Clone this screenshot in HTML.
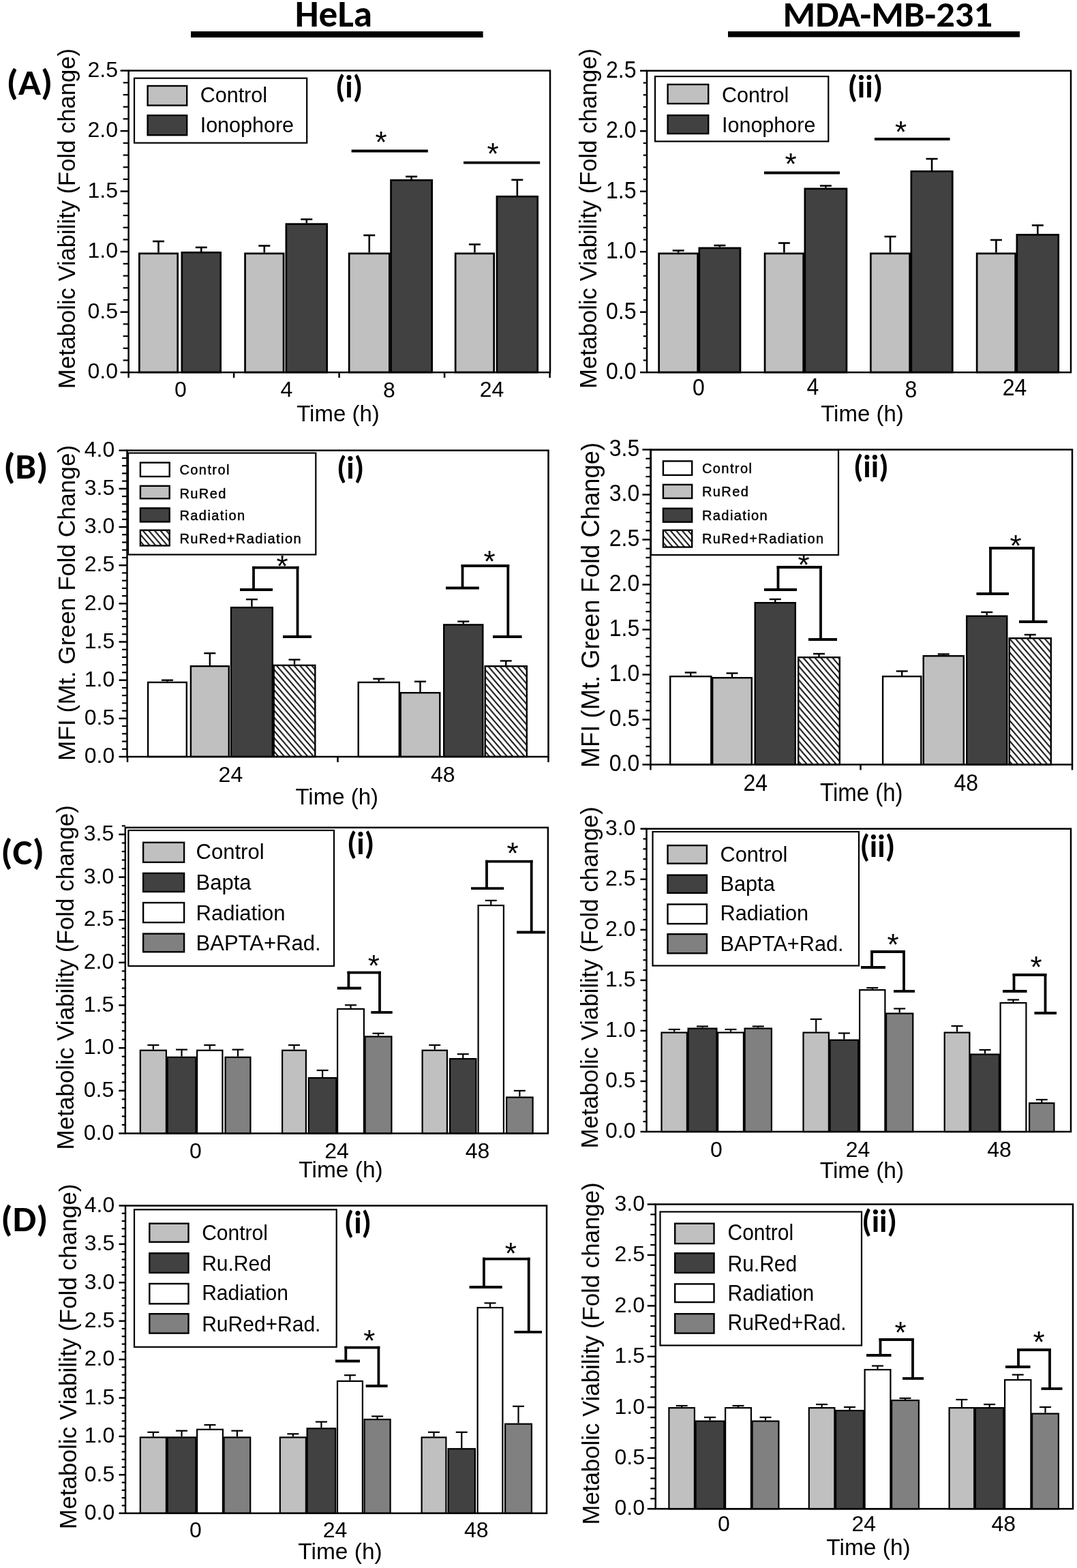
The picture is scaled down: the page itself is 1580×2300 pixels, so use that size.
<!DOCTYPE html>
<html><head><meta charset="utf-8"><title>Figure</title>
<style>html,body{margin:0;padding:0;background:#fff;}svg{display:block;}</style></head>
<body>
<svg xmlns="http://www.w3.org/2000/svg" width="1580" height="2300" viewBox="0 0 1580 2300">
<defs><pattern id="hatch" patternUnits="userSpaceOnUse" x="0" y="-5.4" width="8.6" height="10"><rect width="8.6" height="10" fill="#fff"/><path d="M-1.5,-1.744 L10.1,11.744 M7.1,-1.744 L10.1,1.744 M-1.5,8.256 L1.5,11.744" stroke="#000" stroke-width="1.9"/></pattern></defs>
<rect width="1580" height="2300" fill="#fff"/>
<line x1="232.5" y1="370.5" x2="232.5" y2="354" stroke="#000" stroke-width="2.6"/>
<line x1="224.0" y1="354" x2="241.0" y2="354" stroke="#000" stroke-width="2.6"/>
<rect x="204.35" y="371.85" width="56.30" height="174.20" fill="#c0c0c0" stroke="#000" stroke-width="2.7"/>
<line x1="295.25" y1="369" x2="295.25" y2="362.9" stroke="#000" stroke-width="2.6"/>
<line x1="286.75" y1="362.9" x2="303.75" y2="362.9" stroke="#000" stroke-width="2.6"/>
<rect x="266.85" y="370.35" width="56.80" height="175.70" fill="#414141" stroke="#000" stroke-width="2.7"/>
<line x1="387.79999999999995" y1="370.5" x2="387.79999999999995" y2="360.5" stroke="#000" stroke-width="2.6"/>
<line x1="379.29999999999995" y1="360.5" x2="396.29999999999995" y2="360.5" stroke="#000" stroke-width="2.6"/>
<rect x="359.55" y="371.85" width="56.50" height="174.20" fill="#c0c0c0" stroke="#000" stroke-width="2.7"/>
<line x1="449.75" y1="327.3" x2="449.75" y2="321.7" stroke="#000" stroke-width="2.6"/>
<line x1="441.25" y1="321.7" x2="458.25" y2="321.7" stroke="#000" stroke-width="2.6"/>
<rect x="419.85" y="328.65" width="59.80" height="217.40" fill="#414141" stroke="#000" stroke-width="2.7"/>
<line x1="541.75" y1="370.5" x2="541.75" y2="345.1" stroke="#000" stroke-width="2.6"/>
<line x1="533.25" y1="345.1" x2="550.25" y2="345.1" stroke="#000" stroke-width="2.6"/>
<rect x="512.15" y="371.85" width="59.20" height="174.20" fill="#c0c0c0" stroke="#000" stroke-width="2.7"/>
<line x1="603.6" y1="263" x2="603.6" y2="259" stroke="#000" stroke-width="2.6"/>
<line x1="595.1" y1="259" x2="612.1" y2="259" stroke="#000" stroke-width="2.6"/>
<rect x="573.55" y="264.35" width="60.10" height="281.70" fill="#414141" stroke="#000" stroke-width="2.7"/>
<line x1="696.4" y1="370.5" x2="696.4" y2="358.5" stroke="#000" stroke-width="2.6"/>
<line x1="687.9" y1="358.5" x2="704.9" y2="358.5" stroke="#000" stroke-width="2.6"/>
<rect x="668.15" y="371.85" width="56.50" height="174.20" fill="#c0c0c0" stroke="#000" stroke-width="2.7"/>
<line x1="758.8" y1="286.9" x2="758.8" y2="263.8" stroke="#000" stroke-width="2.6"/>
<line x1="750.3" y1="263.8" x2="767.3" y2="263.8" stroke="#000" stroke-width="2.6"/>
<rect x="728.95" y="288.25" width="59.70" height="257.80" fill="#414141" stroke="#000" stroke-width="2.7"/>
<rect x="188.6" y="103.6" width="618.4" height="442.6" fill="none" stroke="#000" stroke-width="2.5"/>
<line x1="176.6" y1="546.2" x2="188.6" y2="546.2" stroke="#000" stroke-width="2.5"/>
<text x="173" y="555.4000000000001" font-family="'Liberation Sans', Arial, sans-serif" font-size="32" text-anchor="end">0.0</text>
<line x1="180.6" y1="528.4960000000001" x2="188.6" y2="528.4960000000001" stroke="#000" stroke-width="2.2"/>
<line x1="180.6" y1="510.79200000000003" x2="188.6" y2="510.79200000000003" stroke="#000" stroke-width="2.2"/>
<line x1="180.6" y1="493.088" x2="188.6" y2="493.088" stroke="#000" stroke-width="2.2"/>
<line x1="180.6" y1="475.384" x2="188.6" y2="475.384" stroke="#000" stroke-width="2.2"/>
<line x1="176.6" y1="457.68000000000006" x2="188.6" y2="457.68000000000006" stroke="#000" stroke-width="2.5"/>
<text x="173" y="466.88000000000005" font-family="'Liberation Sans', Arial, sans-serif" font-size="32" text-anchor="end">0.5</text>
<line x1="180.6" y1="439.976" x2="188.6" y2="439.976" stroke="#000" stroke-width="2.2"/>
<line x1="180.6" y1="422.27200000000005" x2="188.6" y2="422.27200000000005" stroke="#000" stroke-width="2.2"/>
<line x1="180.6" y1="404.568" x2="188.6" y2="404.568" stroke="#000" stroke-width="2.2"/>
<line x1="180.6" y1="386.86400000000003" x2="188.6" y2="386.86400000000003" stroke="#000" stroke-width="2.2"/>
<line x1="176.6" y1="369.16" x2="188.6" y2="369.16" stroke="#000" stroke-width="2.5"/>
<text x="173" y="378.36" font-family="'Liberation Sans', Arial, sans-serif" font-size="32" text-anchor="end">1.0</text>
<line x1="180.6" y1="351.456" x2="188.6" y2="351.456" stroke="#000" stroke-width="2.2"/>
<line x1="180.6" y1="333.75199999999995" x2="188.6" y2="333.75199999999995" stroke="#000" stroke-width="2.2"/>
<line x1="180.6" y1="316.048" x2="188.6" y2="316.048" stroke="#000" stroke-width="2.2"/>
<line x1="180.6" y1="298.344" x2="188.6" y2="298.344" stroke="#000" stroke-width="2.2"/>
<line x1="176.6" y1="280.64" x2="188.6" y2="280.64" stroke="#000" stroke-width="2.5"/>
<text x="173" y="289.84" font-family="'Liberation Sans', Arial, sans-serif" font-size="32" text-anchor="end">1.5</text>
<line x1="180.6" y1="262.936" x2="188.6" y2="262.936" stroke="#000" stroke-width="2.2"/>
<line x1="180.6" y1="245.23199999999997" x2="188.6" y2="245.23199999999997" stroke="#000" stroke-width="2.2"/>
<line x1="180.6" y1="227.52800000000002" x2="188.6" y2="227.52800000000002" stroke="#000" stroke-width="2.2"/>
<line x1="180.6" y1="209.82399999999996" x2="188.6" y2="209.82399999999996" stroke="#000" stroke-width="2.2"/>
<line x1="176.6" y1="192.12" x2="188.6" y2="192.12" stroke="#000" stroke-width="2.5"/>
<text x="173" y="201.32" font-family="'Liberation Sans', Arial, sans-serif" font-size="32" text-anchor="end">2.0</text>
<line x1="180.6" y1="174.416" x2="188.6" y2="174.416" stroke="#000" stroke-width="2.2"/>
<line x1="180.6" y1="156.712" x2="188.6" y2="156.712" stroke="#000" stroke-width="2.2"/>
<line x1="180.6" y1="139.00799999999992" x2="188.6" y2="139.00799999999992" stroke="#000" stroke-width="2.2"/>
<line x1="180.6" y1="121.30399999999992" x2="188.6" y2="121.30399999999992" stroke="#000" stroke-width="2.2"/>
<line x1="176.6" y1="103.60000000000002" x2="188.6" y2="103.60000000000002" stroke="#000" stroke-width="2.5"/>
<text x="173" y="112.80000000000003" font-family="'Liberation Sans', Arial, sans-serif" font-size="32" text-anchor="end">2.5</text>
<line x1="188.6" y1="546.2" x2="188.6" y2="554.2" stroke="#000" stroke-width="2.5"/>
<line x1="343.1" y1="546.2" x2="343.1" y2="554.2" stroke="#000" stroke-width="2.5"/>
<line x1="497.6" y1="546.2" x2="497.6" y2="554.2" stroke="#000" stroke-width="2.5"/>
<line x1="652.1" y1="546.2" x2="652.1" y2="554.2" stroke="#000" stroke-width="2.5"/>
<line x1="806.6" y1="546.2" x2="806.6" y2="554.2" stroke="#000" stroke-width="2.5"/>
<text x="265" y="582" font-family="'Liberation Sans', Arial, sans-serif" font-size="32" text-anchor="middle">0</text>
<text x="420.3" y="582" font-family="'Liberation Sans', Arial, sans-serif" font-size="32" text-anchor="middle">4</text>
<text x="571" y="583" font-family="'Liberation Sans', Arial, sans-serif" font-size="32" text-anchor="middle">8</text>
<text x="721.5" y="582" font-family="'Liberation Sans', Arial, sans-serif" font-size="32" text-anchor="middle">24</text>
<text x="496" y="618" font-family="'Liberation Sans', Arial, sans-serif" font-size="33" text-anchor="middle">Time (h)</text>
<text x="0" y="0" font-family="'Liberation Sans', Arial, sans-serif" font-size="34.6" text-anchor="middle" transform="translate(110,320.6) rotate(-90)">Metabolic Viability (Fold change)</text>
<rect x="197" y="114.7" width="253.2" height="94.89999999999999" fill="#fff" stroke="#000" stroke-width="2.2"/>
<rect x="216.60" y="126.00" width="57.60" height="28.60" fill="#c0c0c0" stroke="#000" stroke-width="2.4"/>
<text x="293.7" y="149.5" font-family="'Liberation Sans', Arial, sans-serif" font-size="30.5" text-anchor="start">Control</text>
<rect x="216.60" y="169.20" width="57.60" height="29.00" fill="#414141" stroke="#000" stroke-width="2.4"/>
<text x="293.7" y="193.5" font-family="'Liberation Sans', Arial, sans-serif" font-size="30.5" text-anchor="start">Ionophore</text>
<line x1="515.6" y1="221.5" x2="627.8" y2="221.5" stroke="#000" stroke-width="3.8"/>
<line x1="680" y1="238.7" x2="792.1" y2="238.7" stroke="#000" stroke-width="3.8"/>
<text x="559" y="224.38" font-family="'Liberation Sans', Arial, sans-serif" font-size="44" text-anchor="middle">*</text>
<text x="723" y="240.88" font-family="'Liberation Sans', Arial, sans-serif" font-size="44" text-anchor="middle">*</text>
<text x="0" y="0" transform="translate(9.50,138.90) scale(1.07,1.0)" font-family="Carlito, 'Liberation Sans', Arial, sans-serif" font-size="51.5" font-weight="bold" text-anchor="start" textLength="63.30" lengthAdjust="spacingAndGlyphs">(A)</text>
<text x="491.9" y="142.9" font-family="Carlito, 'Liberation Sans', Arial, sans-serif" font-size="46.5" font-weight="bold" text-anchor="start" textLength="40.40" lengthAdjust="spacingAndGlyphs">(i)</text>
<line x1="995.15" y1="370.5" x2="995.15" y2="367.5" stroke="#000" stroke-width="2.6"/>
<line x1="986.65" y1="367.5" x2="1003.65" y2="367.5" stroke="#000" stroke-width="2.6"/>
<rect x="966.65" y="371.85" width="57.00" height="174.20" fill="#c0c0c0" stroke="#000" stroke-width="2.7"/>
<line x1="1055.9" y1="362.5" x2="1055.9" y2="360" stroke="#000" stroke-width="2.6"/>
<line x1="1047.4" y1="360" x2="1064.4" y2="360" stroke="#000" stroke-width="2.6"/>
<rect x="1025.85" y="363.85" width="60.10" height="182.20" fill="#414141" stroke="#000" stroke-width="2.7"/>
<line x1="1150.35" y1="370.5" x2="1150.35" y2="356.5" stroke="#000" stroke-width="2.6"/>
<line x1="1141.85" y1="356.5" x2="1158.85" y2="356.5" stroke="#000" stroke-width="2.6"/>
<rect x="1122.05" y="371.85" width="56.60" height="174.20" fill="#c0c0c0" stroke="#000" stroke-width="2.7"/>
<line x1="1211.4" y1="275.5" x2="1211.4" y2="272.5" stroke="#000" stroke-width="2.6"/>
<line x1="1202.9" y1="272.5" x2="1219.9" y2="272.5" stroke="#000" stroke-width="2.6"/>
<rect x="1180.85" y="276.85" width="61.10" height="269.20" fill="#414141" stroke="#000" stroke-width="2.7"/>
<line x1="1306.0" y1="370.5" x2="1306.0" y2="347" stroke="#000" stroke-width="2.6"/>
<line x1="1297.5" y1="347" x2="1314.5" y2="347" stroke="#000" stroke-width="2.6"/>
<rect x="1277.35" y="371.85" width="57.30" height="174.20" fill="#c0c0c0" stroke="#000" stroke-width="2.7"/>
<line x1="1367.05" y1="250" x2="1367.05" y2="233" stroke="#000" stroke-width="2.6"/>
<line x1="1358.55" y1="233" x2="1375.55" y2="233" stroke="#000" stroke-width="2.6"/>
<rect x="1336.85" y="251.35" width="60.40" height="294.70" fill="#414141" stroke="#000" stroke-width="2.7"/>
<line x1="1461.4" y1="370.5" x2="1461.4" y2="352" stroke="#000" stroke-width="2.6"/>
<line x1="1452.9" y1="352" x2="1469.9" y2="352" stroke="#000" stroke-width="2.6"/>
<rect x="1433.15" y="371.85" width="56.50" height="174.20" fill="#c0c0c0" stroke="#000" stroke-width="2.7"/>
<line x1="1522.3" y1="343" x2="1522.3" y2="330.5" stroke="#000" stroke-width="2.6"/>
<line x1="1513.8" y1="330.5" x2="1530.8" y2="330.5" stroke="#000" stroke-width="2.6"/>
<rect x="1491.85" y="344.35" width="60.90" height="201.70" fill="#414141" stroke="#000" stroke-width="2.7"/>
<rect x="949" y="103.8" width="622" height="442.40000000000003" fill="none" stroke="#000" stroke-width="2.5"/>
<line x1="939" y1="546.2" x2="949" y2="546.2" stroke="#000" stroke-width="2.5"/>
<text x="0" y="0" transform="translate(933.50,556.14) scale(1.0,1.08)" font-family="'Liberation Sans', Arial, sans-serif" font-size="32" text-anchor="end">0.0</text>
<line x1="943.7" y1="528.504" x2="949" y2="528.504" stroke="#000" stroke-width="2.2"/>
<line x1="943.7" y1="510.80800000000005" x2="949" y2="510.80800000000005" stroke="#000" stroke-width="2.2"/>
<line x1="943.7" y1="493.112" x2="949" y2="493.112" stroke="#000" stroke-width="2.2"/>
<line x1="943.7" y1="475.41600000000005" x2="949" y2="475.41600000000005" stroke="#000" stroke-width="2.2"/>
<line x1="939" y1="457.72" x2="949" y2="457.72" stroke="#000" stroke-width="2.5"/>
<text x="0" y="0" transform="translate(933.50,467.66) scale(1.0,1.08)" font-family="'Liberation Sans', Arial, sans-serif" font-size="32" text-anchor="end">0.5</text>
<line x1="943.7" y1="440.024" x2="949" y2="440.024" stroke="#000" stroke-width="2.2"/>
<line x1="943.7" y1="422.32800000000003" x2="949" y2="422.32800000000003" stroke="#000" stroke-width="2.2"/>
<line x1="943.7" y1="404.63200000000006" x2="949" y2="404.63200000000006" stroke="#000" stroke-width="2.2"/>
<line x1="943.7" y1="386.93600000000004" x2="949" y2="386.93600000000004" stroke="#000" stroke-width="2.2"/>
<line x1="939" y1="369.24" x2="949" y2="369.24" stroke="#000" stroke-width="2.5"/>
<text x="0" y="0" transform="translate(933.50,379.18) scale(1.0,1.08)" font-family="'Liberation Sans', Arial, sans-serif" font-size="32" text-anchor="end">1.0</text>
<line x1="943.7" y1="351.544" x2="949" y2="351.544" stroke="#000" stroke-width="2.2"/>
<line x1="943.7" y1="333.848" x2="949" y2="333.848" stroke="#000" stroke-width="2.2"/>
<line x1="943.7" y1="316.15200000000004" x2="949" y2="316.15200000000004" stroke="#000" stroke-width="2.2"/>
<line x1="943.7" y1="298.456" x2="949" y2="298.456" stroke="#000" stroke-width="2.2"/>
<line x1="939" y1="280.76000000000005" x2="949" y2="280.76000000000005" stroke="#000" stroke-width="2.5"/>
<text x="0" y="0" transform="translate(933.50,290.70) scale(1.0,1.08)" font-family="'Liberation Sans', Arial, sans-serif" font-size="32" text-anchor="end">1.5</text>
<line x1="943.7" y1="263.064" x2="949" y2="263.064" stroke="#000" stroke-width="2.2"/>
<line x1="943.7" y1="245.368" x2="949" y2="245.368" stroke="#000" stroke-width="2.2"/>
<line x1="943.7" y1="227.67200000000003" x2="949" y2="227.67200000000003" stroke="#000" stroke-width="2.2"/>
<line x1="943.7" y1="209.976" x2="949" y2="209.976" stroke="#000" stroke-width="2.2"/>
<line x1="939" y1="192.28000000000003" x2="949" y2="192.28000000000003" stroke="#000" stroke-width="2.5"/>
<text x="0" y="0" transform="translate(933.50,202.22) scale(1.0,1.08)" font-family="'Liberation Sans', Arial, sans-serif" font-size="32" text-anchor="end">2.0</text>
<line x1="943.7" y1="174.584" x2="949" y2="174.584" stroke="#000" stroke-width="2.2"/>
<line x1="943.7" y1="156.88799999999998" x2="949" y2="156.88799999999998" stroke="#000" stroke-width="2.2"/>
<line x1="943.7" y1="139.192" x2="949" y2="139.192" stroke="#000" stroke-width="2.2"/>
<line x1="943.7" y1="121.49599999999998" x2="949" y2="121.49599999999998" stroke="#000" stroke-width="2.2"/>
<line x1="939" y1="103.80000000000001" x2="949" y2="103.80000000000001" stroke="#000" stroke-width="2.5"/>
<text x="0" y="0" transform="translate(933.50,113.74) scale(1.0,1.08)" font-family="'Liberation Sans', Arial, sans-serif" font-size="32" text-anchor="end">2.5</text>
<text x="0" y="0" transform="translate(1025.00,579.50) scale(1.0,1.08)" font-family="'Liberation Sans', Arial, sans-serif" font-size="32" text-anchor="middle">0</text>
<text x="0" y="0" transform="translate(1192.50,578.50) scale(1.0,1.08)" font-family="'Liberation Sans', Arial, sans-serif" font-size="32" text-anchor="middle">4</text>
<text x="0" y="0" transform="translate(1336.50,582.50) scale(1.0,1.08)" font-family="'Liberation Sans', Arial, sans-serif" font-size="32" text-anchor="middle">8</text>
<text x="0" y="0" transform="translate(1488.50,579.50) scale(1.0,1.08)" font-family="'Liberation Sans', Arial, sans-serif" font-size="32" text-anchor="middle">24</text>
<text x="1265" y="618" font-family="'Liberation Sans', Arial, sans-serif" font-size="33" text-anchor="middle">Time (h)</text>
<text x="0" y="0" font-family="'Liberation Sans', Arial, sans-serif" font-size="34.6" text-anchor="middle" transform="translate(874.6,320.55) rotate(-90)">Metabolic Viability (Fold change)</text>
<rect x="961" y="112.1" width="254.29999999999995" height="95.30000000000001" fill="#fff" stroke="#000" stroke-width="2.2"/>
<rect x="979.60" y="123.90" width="59.60" height="28.10" fill="#c0c0c0" stroke="#000" stroke-width="2.4"/>
<text x="1059" y="150" font-family="'Liberation Sans', Arial, sans-serif" font-size="30.5" text-anchor="start">Control</text>
<rect x="979.60" y="169.10" width="59.60" height="26.90" fill="#414141" stroke="#000" stroke-width="2.4"/>
<text x="1059" y="193.5" font-family="'Liberation Sans', Arial, sans-serif" font-size="30.5" text-anchor="start">Ionophore</text>
<line x1="1121" y1="253.5" x2="1232" y2="253.5" stroke="#000" stroke-width="3.8"/>
<line x1="1283" y1="204" x2="1393.5" y2="204" stroke="#000" stroke-width="3.8"/>
<text x="1160" y="256.38" font-family="'Liberation Sans', Arial, sans-serif" font-size="44" text-anchor="middle">*</text>
<text x="1321.5" y="208.88" font-family="'Liberation Sans', Arial, sans-serif" font-size="44" text-anchor="middle">*</text>
<text x="1243.4" y="143.0" font-family="Carlito, 'Liberation Sans', Arial, sans-serif" font-size="46.5" font-weight="bold" text-anchor="start" textLength="51.82" lengthAdjust="spacingAndGlyphs">(ii)</text>
<line x1="245.45" y1="999.7" x2="245.45" y2="997.7" stroke="#000" stroke-width="2.4"/>
<line x1="236.95" y1="997.7" x2="253.95" y2="997.7" stroke="#000" stroke-width="2.4"/>
<rect x="217.10" y="1000.90" width="56.70" height="109.10" fill="#ffffff" stroke="#000" stroke-width="2.4"/>
<line x1="307.85" y1="976" x2="307.85" y2="958.2" stroke="#000" stroke-width="2.4"/>
<line x1="299.35" y1="958.2" x2="316.35" y2="958.2" stroke="#000" stroke-width="2.4"/>
<rect x="279.90" y="977.20" width="55.90" height="132.80" fill="#c0c0c0" stroke="#000" stroke-width="2.4"/>
<line x1="369.4" y1="889.9" x2="369.4" y2="879.2" stroke="#000" stroke-width="2.4"/>
<line x1="360.9" y1="879.2" x2="377.9" y2="879.2" stroke="#000" stroke-width="2.4"/>
<rect x="339.00" y="891.10" width="60.80" height="218.90" fill="#414141" stroke="#000" stroke-width="2.4"/>
<line x1="432.0" y1="974.7" x2="432.0" y2="967.6" stroke="#000" stroke-width="2.4"/>
<line x1="423.5" y1="967.6" x2="440.5" y2="967.6" stroke="#000" stroke-width="2.4"/>
<rect x="401.70" y="975.90" width="60.60" height="134.10" fill="url(#hatch)" stroke="#000" stroke-width="2.4"/>
<line x1="555.75" y1="999.7" x2="555.75" y2="995.7" stroke="#000" stroke-width="2.4"/>
<line x1="547.25" y1="995.7" x2="564.25" y2="995.7" stroke="#000" stroke-width="2.4"/>
<rect x="525.70" y="1000.90" width="60.10" height="109.10" fill="#ffffff" stroke="#000" stroke-width="2.4"/>
<line x1="616.5" y1="1015" x2="616.5" y2="999.7" stroke="#000" stroke-width="2.4"/>
<line x1="608.0" y1="999.7" x2="625.0" y2="999.7" stroke="#000" stroke-width="2.4"/>
<rect x="587.70" y="1016.20" width="57.60" height="93.80" fill="#c0c0c0" stroke="#000" stroke-width="2.4"/>
<line x1="679.75" y1="915.2" x2="679.75" y2="911.6" stroke="#000" stroke-width="2.4"/>
<line x1="671.25" y1="911.6" x2="688.25" y2="911.6" stroke="#000" stroke-width="2.4"/>
<rect x="651.20" y="916.40" width="57.10" height="193.60" fill="#414141" stroke="#000" stroke-width="2.4"/>
<line x1="742.25" y1="976" x2="742.25" y2="969.4" stroke="#000" stroke-width="2.4"/>
<line x1="733.75" y1="969.4" x2="750.75" y2="969.4" stroke="#000" stroke-width="2.4"/>
<rect x="711.70" y="977.20" width="61.10" height="132.80" fill="url(#hatch)" stroke="#000" stroke-width="2.4"/>
<rect x="186.5" y="660.7" width="618.0" height="449.29999999999995" fill="none" stroke="#000" stroke-width="2.5"/>
<line x1="174.5" y1="1110.0" x2="186.5" y2="1110.0" stroke="#000" stroke-width="2.5"/>
<text x="168.2" y="1119.2" font-family="'Liberation Sans', Arial, sans-serif" font-size="32" text-anchor="end">0.0</text>
<line x1="179.0" y1="1098.7675" x2="186.5" y2="1098.7675" stroke="#000" stroke-width="2.2"/>
<line x1="179.0" y1="1087.535" x2="186.5" y2="1087.535" stroke="#000" stroke-width="2.2"/>
<line x1="179.0" y1="1076.3025" x2="186.5" y2="1076.3025" stroke="#000" stroke-width="2.2"/>
<line x1="179.0" y1="1065.07" x2="186.5" y2="1065.07" stroke="#000" stroke-width="2.2"/>
<line x1="174.5" y1="1053.8375" x2="186.5" y2="1053.8375" stroke="#000" stroke-width="2.5"/>
<text x="168.2" y="1063.0375000000001" font-family="'Liberation Sans', Arial, sans-serif" font-size="32" text-anchor="end">0.5</text>
<line x1="179.0" y1="1042.605" x2="186.5" y2="1042.605" stroke="#000" stroke-width="2.2"/>
<line x1="179.0" y1="1031.3725" x2="186.5" y2="1031.3725" stroke="#000" stroke-width="2.2"/>
<line x1="179.0" y1="1020.14" x2="186.5" y2="1020.14" stroke="#000" stroke-width="2.2"/>
<line x1="179.0" y1="1008.9075" x2="186.5" y2="1008.9075" stroke="#000" stroke-width="2.2"/>
<line x1="174.5" y1="997.675" x2="186.5" y2="997.675" stroke="#000" stroke-width="2.5"/>
<text x="168.2" y="1006.875" font-family="'Liberation Sans', Arial, sans-serif" font-size="32" text-anchor="end">1.0</text>
<line x1="179.0" y1="986.4425" x2="186.5" y2="986.4425" stroke="#000" stroke-width="2.2"/>
<line x1="179.0" y1="975.21" x2="186.5" y2="975.21" stroke="#000" stroke-width="2.2"/>
<line x1="179.0" y1="963.9775" x2="186.5" y2="963.9775" stroke="#000" stroke-width="2.2"/>
<line x1="179.0" y1="952.745" x2="186.5" y2="952.745" stroke="#000" stroke-width="2.2"/>
<line x1="174.5" y1="941.5125" x2="186.5" y2="941.5125" stroke="#000" stroke-width="2.5"/>
<text x="168.2" y="950.7125000000001" font-family="'Liberation Sans', Arial, sans-serif" font-size="32" text-anchor="end">1.5</text>
<line x1="179.0" y1="930.28" x2="186.5" y2="930.28" stroke="#000" stroke-width="2.2"/>
<line x1="179.0" y1="919.0475" x2="186.5" y2="919.0475" stroke="#000" stroke-width="2.2"/>
<line x1="179.0" y1="907.815" x2="186.5" y2="907.815" stroke="#000" stroke-width="2.2"/>
<line x1="179.0" y1="896.5825" x2="186.5" y2="896.5825" stroke="#000" stroke-width="2.2"/>
<line x1="174.5" y1="885.35" x2="186.5" y2="885.35" stroke="#000" stroke-width="2.5"/>
<text x="168.2" y="894.5500000000001" font-family="'Liberation Sans', Arial, sans-serif" font-size="32" text-anchor="end">2.0</text>
<line x1="179.0" y1="874.1175000000001" x2="186.5" y2="874.1175000000001" stroke="#000" stroke-width="2.2"/>
<line x1="179.0" y1="862.885" x2="186.5" y2="862.885" stroke="#000" stroke-width="2.2"/>
<line x1="179.0" y1="851.6524999999999" x2="186.5" y2="851.6524999999999" stroke="#000" stroke-width="2.2"/>
<line x1="179.0" y1="840.42" x2="186.5" y2="840.42" stroke="#000" stroke-width="2.2"/>
<line x1="174.5" y1="829.1875" x2="186.5" y2="829.1875" stroke="#000" stroke-width="2.5"/>
<text x="168.2" y="838.3875" font-family="'Liberation Sans', Arial, sans-serif" font-size="32" text-anchor="end">2.5</text>
<line x1="179.0" y1="817.955" x2="186.5" y2="817.955" stroke="#000" stroke-width="2.2"/>
<line x1="179.0" y1="806.7225000000001" x2="186.5" y2="806.7225000000001" stroke="#000" stroke-width="2.2"/>
<line x1="179.0" y1="795.49" x2="186.5" y2="795.49" stroke="#000" stroke-width="2.2"/>
<line x1="179.0" y1="784.2574999999999" x2="186.5" y2="784.2574999999999" stroke="#000" stroke-width="2.2"/>
<line x1="174.5" y1="773.0250000000001" x2="186.5" y2="773.0250000000001" stroke="#000" stroke-width="2.5"/>
<text x="168.2" y="782.2250000000001" font-family="'Liberation Sans', Arial, sans-serif" font-size="32" text-anchor="end">3.0</text>
<line x1="179.0" y1="761.7925" x2="186.5" y2="761.7925" stroke="#000" stroke-width="2.2"/>
<line x1="179.0" y1="750.56" x2="186.5" y2="750.56" stroke="#000" stroke-width="2.2"/>
<line x1="179.0" y1="739.3275" x2="186.5" y2="739.3275" stroke="#000" stroke-width="2.2"/>
<line x1="179.0" y1="728.095" x2="186.5" y2="728.095" stroke="#000" stroke-width="2.2"/>
<line x1="174.5" y1="716.8625000000001" x2="186.5" y2="716.8625000000001" stroke="#000" stroke-width="2.5"/>
<text x="168.2" y="726.0625000000001" font-family="'Liberation Sans', Arial, sans-serif" font-size="32" text-anchor="end">3.5</text>
<line x1="179.0" y1="705.6300000000001" x2="186.5" y2="705.6300000000001" stroke="#000" stroke-width="2.2"/>
<line x1="179.0" y1="694.3975" x2="186.5" y2="694.3975" stroke="#000" stroke-width="2.2"/>
<line x1="179.0" y1="683.165" x2="186.5" y2="683.165" stroke="#000" stroke-width="2.2"/>
<line x1="179.0" y1="671.9325" x2="186.5" y2="671.9325" stroke="#000" stroke-width="2.2"/>
<line x1="174.5" y1="660.7" x2="186.5" y2="660.7" stroke="#000" stroke-width="2.5"/>
<text x="168.2" y="669.9000000000001" font-family="'Liberation Sans', Arial, sans-serif" font-size="32" text-anchor="end">4.0</text>
<line x1="187" y1="1110" x2="187" y2="1118" stroke="#000" stroke-width="2.5"/>
<line x1="495.5" y1="1110" x2="495.5" y2="1118" stroke="#000" stroke-width="2.5"/>
<line x1="804.5" y1="1110" x2="804.5" y2="1118" stroke="#000" stroke-width="2.5"/>
<text x="338.4" y="1147.3" font-family="'Liberation Sans', Arial, sans-serif" font-size="32" text-anchor="middle">24</text>
<text x="649.8" y="1147.3" font-family="'Liberation Sans', Arial, sans-serif" font-size="32" text-anchor="middle">48</text>
<text x="494.2" y="1180" font-family="'Liberation Sans', Arial, sans-serif" font-size="33" text-anchor="middle">Time (h)</text>
<text x="0" y="0" font-family="'Liberation Sans', Arial, sans-serif" font-size="35.33" text-anchor="middle" transform="translate(110,884.35) rotate(-90)">MFI (Mt. Green Fold Change)</text>
<rect x="188" y="664.5" width="275.3" height="149.0" fill="#fff" stroke="#000" stroke-width="2.2"/>
<rect x="205.90" y="678.60" width="42.80" height="20.40" fill="#ffffff" stroke="#000" stroke-width="2.4"/>
<text x="263.5" y="695.8" font-family="'Liberation Sans', Arial, sans-serif" font-size="20" text-anchor="start" letter-spacing="1.4" stroke="#000" stroke-width="0.45">Control</text>
<rect x="205.90" y="712.80" width="42.80" height="18.50" fill="#c0c0c0" stroke="#000" stroke-width="2.4"/>
<text x="263.5" y="730.6" font-family="'Liberation Sans', Arial, sans-serif" font-size="20" text-anchor="start" letter-spacing="1.4" stroke="#000" stroke-width="0.45">RuRed</text>
<rect x="205.90" y="745.40" width="42.80" height="20.00" fill="#414141" stroke="#000" stroke-width="2.4"/>
<text x="263.5" y="762.8" font-family="'Liberation Sans', Arial, sans-serif" font-size="20" text-anchor="start" letter-spacing="1.4" stroke="#000" stroke-width="0.45">Radiation</text>
<rect x="205.90" y="777.70" width="42.80" height="22.70" fill="url(#hatch)" stroke="#000" stroke-width="2.4"/>
<text x="263.5" y="797" font-family="'Liberation Sans', Arial, sans-serif" font-size="20" text-anchor="start" letter-spacing="1.4" stroke="#000" stroke-width="0.45">RuRed+Radiation</text>
<line x1="352" y1="865" x2="400" y2="865" stroke="#000" stroke-width="3.8"/>
<line x1="372" y1="865" x2="372" y2="830.8000000000001" stroke="#000" stroke-width="3.8"/>
<line x1="370.1" y1="832.7" x2="438.4" y2="832.7" stroke="#000" stroke-width="3.8"/>
<line x1="436.5" y1="830.8000000000001" x2="436.5" y2="934" stroke="#000" stroke-width="3.8"/>
<line x1="415" y1="934" x2="457" y2="934" stroke="#000" stroke-width="3.8"/>
<line x1="654" y1="862.5" x2="702.8" y2="862.5" stroke="#000" stroke-width="3.8"/>
<line x1="678.5" y1="862.5" x2="678.5" y2="828.1" stroke="#000" stroke-width="3.8"/>
<line x1="676.6" y1="830" x2="747.1999999999999" y2="830" stroke="#000" stroke-width="3.8"/>
<line x1="745.3" y1="828.1" x2="745.3" y2="934" stroke="#000" stroke-width="3.8"/>
<line x1="723" y1="934" x2="765.6" y2="934" stroke="#000" stroke-width="3.8"/>
<text x="414" y="846.38" font-family="'Liberation Sans', Arial, sans-serif" font-size="44" text-anchor="middle">*</text>
<text x="718" y="838.88" font-family="'Liberation Sans', Arial, sans-serif" font-size="44" text-anchor="middle">*</text>
<text x="0" y="0" transform="translate(5.20,702.30) scale(1.07,1.0)" font-family="Carlito, 'Liberation Sans', Arial, sans-serif" font-size="51.5" font-weight="bold" text-anchor="start" textLength="60.96" lengthAdjust="spacingAndGlyphs">(B)</text>
<text x="493.9" y="701.9" font-family="Carlito, 'Liberation Sans', Arial, sans-serif" font-size="46.5" font-weight="bold" text-anchor="start" textLength="40.40" lengthAdjust="spacingAndGlyphs">(i)</text>
<line x1="1013.25" y1="991" x2="1013.25" y2="986.5" stroke="#000" stroke-width="2.4"/>
<line x1="1004.75" y1="986.5" x2="1021.75" y2="986.5" stroke="#000" stroke-width="2.4"/>
<rect x="983.20" y="992.20" width="60.10" height="129.30" fill="#ffffff" stroke="#000" stroke-width="2.4"/>
<line x1="1074.0" y1="993" x2="1074.0" y2="987.5" stroke="#000" stroke-width="2.4"/>
<line x1="1065.5" y1="987.5" x2="1082.5" y2="987.5" stroke="#000" stroke-width="2.4"/>
<rect x="1045.20" y="994.20" width="57.60" height="127.30" fill="#c0c0c0" stroke="#000" stroke-width="2.4"/>
<line x1="1137.25" y1="883" x2="1137.25" y2="879" stroke="#000" stroke-width="2.4"/>
<line x1="1128.75" y1="879" x2="1145.75" y2="879" stroke="#000" stroke-width="2.4"/>
<rect x="1107.70" y="884.20" width="59.10" height="237.30" fill="#414141" stroke="#000" stroke-width="2.4"/>
<line x1="1201.5" y1="963" x2="1201.5" y2="959" stroke="#000" stroke-width="2.4"/>
<line x1="1193.0" y1="959" x2="1210.0" y2="959" stroke="#000" stroke-width="2.4"/>
<rect x="1171.20" y="964.20" width="60.60" height="157.30" fill="url(#hatch)" stroke="#000" stroke-width="2.4"/>
<line x1="1323.2" y1="991" x2="1323.2" y2="984.5" stroke="#000" stroke-width="2.4"/>
<line x1="1314.7" y1="984.5" x2="1331.7" y2="984.5" stroke="#000" stroke-width="2.4"/>
<rect x="1295.10" y="992.20" width="56.20" height="129.30" fill="#ffffff" stroke="#000" stroke-width="2.4"/>
<line x1="1384.25" y1="961" x2="1384.25" y2="959.5" stroke="#000" stroke-width="2.4"/>
<line x1="1375.75" y1="959.5" x2="1392.75" y2="959.5" stroke="#000" stroke-width="2.4"/>
<rect x="1354.70" y="962.20" width="59.10" height="159.30" fill="#c0c0c0" stroke="#000" stroke-width="2.4"/>
<line x1="1447.75" y1="902.5" x2="1447.75" y2="898" stroke="#000" stroke-width="2.4"/>
<line x1="1439.25" y1="898" x2="1456.25" y2="898" stroke="#000" stroke-width="2.4"/>
<rect x="1418.20" y="903.70" width="59.10" height="217.80" fill="#414141" stroke="#000" stroke-width="2.4"/>
<line x1="1511.25" y1="935" x2="1511.25" y2="931" stroke="#000" stroke-width="2.4"/>
<line x1="1502.75" y1="931" x2="1519.75" y2="931" stroke="#000" stroke-width="2.4"/>
<rect x="1480.70" y="936.20" width="61.10" height="185.30" fill="url(#hatch)" stroke="#000" stroke-width="2.4"/>
<rect x="954.4" y="659.5" width="618.6" height="462.0" fill="none" stroke="#000" stroke-width="2.5"/>
<line x1="942.4" y1="1121.5" x2="954.4" y2="1121.5" stroke="#000" stroke-width="2.5"/>
<text x="0" y="0" transform="translate(938.20,1131.36) scale(1.0,1.12)" font-family="'Liberation Sans', Arial, sans-serif" font-size="32" text-anchor="end">0.0</text>
<line x1="947.4" y1="1108.3" x2="954.4" y2="1108.3" stroke="#000" stroke-width="2.2"/>
<line x1="947.4" y1="1095.1" x2="954.4" y2="1095.1" stroke="#000" stroke-width="2.2"/>
<line x1="947.4" y1="1081.9" x2="954.4" y2="1081.9" stroke="#000" stroke-width="2.2"/>
<line x1="947.4" y1="1068.7" x2="954.4" y2="1068.7" stroke="#000" stroke-width="2.2"/>
<line x1="942.4" y1="1055.5" x2="954.4" y2="1055.5" stroke="#000" stroke-width="2.5"/>
<text x="0" y="0" transform="translate(938.20,1065.36) scale(1.0,1.12)" font-family="'Liberation Sans', Arial, sans-serif" font-size="32" text-anchor="end">0.5</text>
<line x1="947.4" y1="1042.3" x2="954.4" y2="1042.3" stroke="#000" stroke-width="2.2"/>
<line x1="947.4" y1="1029.1" x2="954.4" y2="1029.1" stroke="#000" stroke-width="2.2"/>
<line x1="947.4" y1="1015.9" x2="954.4" y2="1015.9" stroke="#000" stroke-width="2.2"/>
<line x1="947.4" y1="1002.7" x2="954.4" y2="1002.7" stroke="#000" stroke-width="2.2"/>
<line x1="942.4" y1="989.5" x2="954.4" y2="989.5" stroke="#000" stroke-width="2.5"/>
<text x="0" y="0" transform="translate(938.20,999.36) scale(1.0,1.12)" font-family="'Liberation Sans', Arial, sans-serif" font-size="32" text-anchor="end">1.0</text>
<line x1="947.4" y1="976.3" x2="954.4" y2="976.3" stroke="#000" stroke-width="2.2"/>
<line x1="947.4" y1="963.0999999999999" x2="954.4" y2="963.0999999999999" stroke="#000" stroke-width="2.2"/>
<line x1="947.4" y1="949.9" x2="954.4" y2="949.9" stroke="#000" stroke-width="2.2"/>
<line x1="947.4" y1="936.7" x2="954.4" y2="936.7" stroke="#000" stroke-width="2.2"/>
<line x1="942.4" y1="923.5" x2="954.4" y2="923.5" stroke="#000" stroke-width="2.5"/>
<text x="0" y="0" transform="translate(938.20,933.36) scale(1.0,1.12)" font-family="'Liberation Sans', Arial, sans-serif" font-size="32" text-anchor="end">1.5</text>
<line x1="947.4" y1="910.3" x2="954.4" y2="910.3" stroke="#000" stroke-width="2.2"/>
<line x1="947.4" y1="897.0999999999999" x2="954.4" y2="897.0999999999999" stroke="#000" stroke-width="2.2"/>
<line x1="947.4" y1="883.9" x2="954.4" y2="883.9" stroke="#000" stroke-width="2.2"/>
<line x1="947.4" y1="870.7" x2="954.4" y2="870.7" stroke="#000" stroke-width="2.2"/>
<line x1="942.4" y1="857.5" x2="954.4" y2="857.5" stroke="#000" stroke-width="2.5"/>
<text x="0" y="0" transform="translate(938.20,867.36) scale(1.0,1.12)" font-family="'Liberation Sans', Arial, sans-serif" font-size="32" text-anchor="end">2.0</text>
<line x1="947.4" y1="844.3" x2="954.4" y2="844.3" stroke="#000" stroke-width="2.2"/>
<line x1="947.4" y1="831.0999999999999" x2="954.4" y2="831.0999999999999" stroke="#000" stroke-width="2.2"/>
<line x1="947.4" y1="817.9" x2="954.4" y2="817.9" stroke="#000" stroke-width="2.2"/>
<line x1="947.4" y1="804.6999999999999" x2="954.4" y2="804.6999999999999" stroke="#000" stroke-width="2.2"/>
<line x1="942.4" y1="791.5" x2="954.4" y2="791.5" stroke="#000" stroke-width="2.5"/>
<text x="0" y="0" transform="translate(938.20,801.36) scale(1.0,1.12)" font-family="'Liberation Sans', Arial, sans-serif" font-size="32" text-anchor="end">2.5</text>
<line x1="947.4" y1="778.3" x2="954.4" y2="778.3" stroke="#000" stroke-width="2.2"/>
<line x1="947.4" y1="765.0999999999999" x2="954.4" y2="765.0999999999999" stroke="#000" stroke-width="2.2"/>
<line x1="947.4" y1="751.9" x2="954.4" y2="751.9" stroke="#000" stroke-width="2.2"/>
<line x1="947.4" y1="738.6999999999999" x2="954.4" y2="738.6999999999999" stroke="#000" stroke-width="2.2"/>
<line x1="942.4" y1="725.5" x2="954.4" y2="725.5" stroke="#000" stroke-width="2.5"/>
<text x="0" y="0" transform="translate(938.20,735.36) scale(1.0,1.12)" font-family="'Liberation Sans', Arial, sans-serif" font-size="32" text-anchor="end">3.0</text>
<line x1="947.4" y1="712.3" x2="954.4" y2="712.3" stroke="#000" stroke-width="2.2"/>
<line x1="947.4" y1="699.0999999999999" x2="954.4" y2="699.0999999999999" stroke="#000" stroke-width="2.2"/>
<line x1="947.4" y1="685.9" x2="954.4" y2="685.9" stroke="#000" stroke-width="2.2"/>
<line x1="947.4" y1="672.6999999999999" x2="954.4" y2="672.6999999999999" stroke="#000" stroke-width="2.2"/>
<line x1="942.4" y1="659.5" x2="954.4" y2="659.5" stroke="#000" stroke-width="2.5"/>
<text x="0" y="0" transform="translate(938.20,669.36) scale(1.0,1.12)" font-family="'Liberation Sans', Arial, sans-serif" font-size="32" text-anchor="end">3.5</text>
<line x1="954.4" y1="1121.5" x2="954.4" y2="1129.5" stroke="#000" stroke-width="2.5"/>
<line x1="1262.5" y1="1121.5" x2="1262.5" y2="1129.5" stroke="#000" stroke-width="2.5"/>
<line x1="1573" y1="1121.5" x2="1573" y2="1129.5" stroke="#000" stroke-width="2.5"/>
<text x="0" y="0" transform="translate(1108.30,1160.00) scale(1.0,1.12)" font-family="'Liberation Sans', Arial, sans-serif" font-size="32" text-anchor="middle">24</text>
<text x="0" y="0" transform="translate(1417.30,1160.00) scale(1.0,1.12)" font-family="'Liberation Sans', Arial, sans-serif" font-size="32" text-anchor="middle">48</text>
<text x="0" y="0" transform="translate(1263.80,1174.50) scale(1.0,1.1)" font-family="'Liberation Sans', Arial, sans-serif" font-size="33" text-anchor="middle">Time (h)</text>
<text x="0" y="0" font-family="'Liberation Sans', Arial, sans-serif" font-size="36.4" text-anchor="middle" transform="translate(879.1,887.6) rotate(-90)">MFI (Mt. Green Fold Change)</text>
<rect x="955" y="660" width="275" height="154" fill="#fff" stroke="#000" stroke-width="2.2"/>
<rect x="972.90" y="676.40" width="42.30" height="20.50" fill="#ffffff" stroke="#000" stroke-width="2.4"/>
<text x="1030" y="694" font-family="'Liberation Sans', Arial, sans-serif" font-size="20" text-anchor="start" letter-spacing="1.4" stroke="#000" stroke-width="0.45">Control</text>
<rect x="972.90" y="710.90" width="42.30" height="20.00" fill="#c0c0c0" stroke="#000" stroke-width="2.4"/>
<text x="1030" y="728.4" font-family="'Liberation Sans', Arial, sans-serif" font-size="20" text-anchor="start" letter-spacing="1.4" stroke="#000" stroke-width="0.45">RuRed</text>
<rect x="972.90" y="745.80" width="42.30" height="19.90" fill="#414141" stroke="#000" stroke-width="2.4"/>
<text x="1030" y="763.3" font-family="'Liberation Sans', Arial, sans-serif" font-size="20" text-anchor="start" letter-spacing="1.4" stroke="#000" stroke-width="0.45">Radiation</text>
<rect x="972.90" y="777.70" width="42.30" height="24.80" fill="url(#hatch)" stroke="#000" stroke-width="2.4"/>
<text x="1030" y="797.3" font-family="'Liberation Sans', Arial, sans-serif" font-size="20" text-anchor="start" letter-spacing="1.4" stroke="#000" stroke-width="0.45">RuRed+Radiation</text>
<line x1="1121" y1="865" x2="1169" y2="865" stroke="#000" stroke-width="3.8"/>
<line x1="1141.5" y1="865" x2="1141.5" y2="830.1" stroke="#000" stroke-width="3.8"/>
<line x1="1139.6" y1="832" x2="1205.9" y2="832" stroke="#000" stroke-width="3.8"/>
<line x1="1204" y1="830.1" x2="1204" y2="938" stroke="#000" stroke-width="3.8"/>
<line x1="1186" y1="938" x2="1228" y2="938" stroke="#000" stroke-width="3.8"/>
<line x1="1432.5" y1="871" x2="1480" y2="871" stroke="#000" stroke-width="3.8"/>
<line x1="1453" y1="871" x2="1453" y2="802.1" stroke="#000" stroke-width="3.8"/>
<line x1="1451.1" y1="804" x2="1517.9" y2="804" stroke="#000" stroke-width="3.8"/>
<line x1="1516" y1="802.1" x2="1516" y2="912" stroke="#000" stroke-width="3.8"/>
<line x1="1495" y1="912" x2="1536.5" y2="912" stroke="#000" stroke-width="3.8"/>
<text x="1179" y="843.88" font-family="'Liberation Sans', Arial, sans-serif" font-size="44" text-anchor="middle">*</text>
<text x="1490" y="816.38" font-family="'Liberation Sans', Arial, sans-serif" font-size="44" text-anchor="middle">*</text>
<text x="1251.9" y="699.6" font-family="Carlito, 'Liberation Sans', Arial, sans-serif" font-size="46.5" font-weight="bold" text-anchor="start" textLength="51.82" lengthAdjust="spacingAndGlyphs">(ii)</text>
<line x1="224.85" y1="1539.6" x2="224.85" y2="1533" stroke="#000" stroke-width="2.2"/>
<line x1="216.35" y1="1533" x2="233.35" y2="1533" stroke="#000" stroke-width="2.2"/>
<rect x="205.80" y="1540.70" width="38.10" height="121.90" fill="#c0c0c0" stroke="#000" stroke-width="2.2"/>
<line x1="266.5" y1="1549.7" x2="266.5" y2="1539.6" stroke="#000" stroke-width="2.2"/>
<line x1="258.0" y1="1539.6" x2="275.0" y2="1539.6" stroke="#000" stroke-width="2.2"/>
<rect x="245.60" y="1550.80" width="41.80" height="111.80" fill="#414141" stroke="#000" stroke-width="2.2"/>
<line x1="307.75" y1="1539.6" x2="307.75" y2="1533" stroke="#000" stroke-width="2.2"/>
<line x1="299.25" y1="1533" x2="316.25" y2="1533" stroke="#000" stroke-width="2.2"/>
<rect x="289.10" y="1540.70" width="37.30" height="121.90" fill="#ffffff" stroke="#000" stroke-width="2.2"/>
<line x1="349.0" y1="1549.7" x2="349.0" y2="1539.6" stroke="#000" stroke-width="2.2"/>
<line x1="340.5" y1="1539.6" x2="357.5" y2="1539.6" stroke="#000" stroke-width="2.2"/>
<rect x="330.60" y="1550.80" width="36.80" height="111.80" fill="#808080" stroke="#000" stroke-width="2.2"/>
<line x1="431.5" y1="1539.6" x2="431.5" y2="1533" stroke="#000" stroke-width="2.2"/>
<line x1="423.0" y1="1533" x2="440.0" y2="1533" stroke="#000" stroke-width="2.2"/>
<rect x="414.10" y="1540.70" width="34.80" height="121.90" fill="#c0c0c0" stroke="#000" stroke-width="2.2"/>
<line x1="473.1" y1="1580" x2="473.1" y2="1570" stroke="#000" stroke-width="2.2"/>
<line x1="464.6" y1="1570" x2="481.6" y2="1570" stroke="#000" stroke-width="2.2"/>
<rect x="452.80" y="1581.10" width="40.60" height="81.50" fill="#414141" stroke="#000" stroke-width="2.2"/>
<line x1="514.5" y1="1478.9" x2="514.5" y2="1474.3" stroke="#000" stroke-width="2.2"/>
<line x1="506.0" y1="1474.3" x2="523.0" y2="1474.3" stroke="#000" stroke-width="2.2"/>
<rect x="495.10" y="1480.00" width="38.80" height="182.60" fill="#ffffff" stroke="#000" stroke-width="2.2"/>
<line x1="555.0" y1="1519.4" x2="555.0" y2="1515.8" stroke="#000" stroke-width="2.2"/>
<line x1="546.5" y1="1515.8" x2="563.5" y2="1515.8" stroke="#000" stroke-width="2.2"/>
<rect x="535.60" y="1520.50" width="38.80" height="142.10" fill="#808080" stroke="#000" stroke-width="2.2"/>
<line x1="637.75" y1="1539.6" x2="637.75" y2="1533" stroke="#000" stroke-width="2.2"/>
<line x1="629.25" y1="1533" x2="646.25" y2="1533" stroke="#000" stroke-width="2.2"/>
<rect x="619.60" y="1540.70" width="36.30" height="121.90" fill="#c0c0c0" stroke="#000" stroke-width="2.2"/>
<line x1="679.25" y1="1552" x2="679.25" y2="1546.2" stroke="#000" stroke-width="2.2"/>
<line x1="670.75" y1="1546.2" x2="687.75" y2="1546.2" stroke="#000" stroke-width="2.2"/>
<rect x="660.10" y="1553.10" width="38.30" height="109.50" fill="#414141" stroke="#000" stroke-width="2.2"/>
<line x1="720.25" y1="1327" x2="720.25" y2="1320.9" stroke="#000" stroke-width="2.2"/>
<line x1="711.75" y1="1320.9" x2="728.75" y2="1320.9" stroke="#000" stroke-width="2.2"/>
<rect x="701.60" y="1328.10" width="37.30" height="334.50" fill="#ffffff" stroke="#000" stroke-width="2.2"/>
<line x1="762.35" y1="1608.5" x2="762.35" y2="1599.9" stroke="#000" stroke-width="2.2"/>
<line x1="753.85" y1="1599.9" x2="770.85" y2="1599.9" stroke="#000" stroke-width="2.2"/>
<rect x="743.10" y="1609.60" width="38.50" height="53.00" fill="#808080" stroke="#000" stroke-width="2.2"/>
<rect x="183.8" y="1213.9" width="620.0999999999999" height="448.5999999999999" fill="none" stroke="#000" stroke-width="2.5"/>
<line x1="174.3" y1="1662.5" x2="183.8" y2="1662.5" stroke="#000" stroke-width="2.5"/>
<text x="167.3" y="1671.7" font-family="'Liberation Sans', Arial, sans-serif" font-size="32" text-anchor="end">0.0</text>
<line x1="178.8" y1="1649.97" x2="183.8" y2="1649.97" stroke="#000" stroke-width="2.2"/>
<line x1="178.8" y1="1637.44" x2="183.8" y2="1637.44" stroke="#000" stroke-width="2.2"/>
<line x1="178.8" y1="1624.91" x2="183.8" y2="1624.91" stroke="#000" stroke-width="2.2"/>
<line x1="178.8" y1="1612.38" x2="183.8" y2="1612.38" stroke="#000" stroke-width="2.2"/>
<line x1="174.3" y1="1599.85" x2="183.8" y2="1599.85" stroke="#000" stroke-width="2.5"/>
<text x="167.3" y="1609.05" font-family="'Liberation Sans', Arial, sans-serif" font-size="32" text-anchor="end">0.5</text>
<line x1="178.8" y1="1587.32" x2="183.8" y2="1587.32" stroke="#000" stroke-width="2.2"/>
<line x1="178.8" y1="1574.79" x2="183.8" y2="1574.79" stroke="#000" stroke-width="2.2"/>
<line x1="178.8" y1="1562.26" x2="183.8" y2="1562.26" stroke="#000" stroke-width="2.2"/>
<line x1="178.8" y1="1549.73" x2="183.8" y2="1549.73" stroke="#000" stroke-width="2.2"/>
<line x1="174.3" y1="1537.2" x2="183.8" y2="1537.2" stroke="#000" stroke-width="2.5"/>
<text x="167.3" y="1546.4" font-family="'Liberation Sans', Arial, sans-serif" font-size="32" text-anchor="end">1.0</text>
<line x1="178.8" y1="1524.67" x2="183.8" y2="1524.67" stroke="#000" stroke-width="2.2"/>
<line x1="178.8" y1="1512.1399999999999" x2="183.8" y2="1512.1399999999999" stroke="#000" stroke-width="2.2"/>
<line x1="178.8" y1="1499.61" x2="183.8" y2="1499.61" stroke="#000" stroke-width="2.2"/>
<line x1="178.8" y1="1487.08" x2="183.8" y2="1487.08" stroke="#000" stroke-width="2.2"/>
<line x1="174.3" y1="1474.55" x2="183.8" y2="1474.55" stroke="#000" stroke-width="2.5"/>
<text x="167.3" y="1483.75" font-family="'Liberation Sans', Arial, sans-serif" font-size="32" text-anchor="end">1.5</text>
<line x1="178.8" y1="1462.02" x2="183.8" y2="1462.02" stroke="#000" stroke-width="2.2"/>
<line x1="178.8" y1="1449.49" x2="183.8" y2="1449.49" stroke="#000" stroke-width="2.2"/>
<line x1="178.8" y1="1436.96" x2="183.8" y2="1436.96" stroke="#000" stroke-width="2.2"/>
<line x1="178.8" y1="1424.43" x2="183.8" y2="1424.43" stroke="#000" stroke-width="2.2"/>
<line x1="174.3" y1="1411.9" x2="183.8" y2="1411.9" stroke="#000" stroke-width="2.5"/>
<text x="167.3" y="1421.1000000000001" font-family="'Liberation Sans', Arial, sans-serif" font-size="32" text-anchor="end">2.0</text>
<line x1="178.8" y1="1399.37" x2="183.8" y2="1399.37" stroke="#000" stroke-width="2.2"/>
<line x1="178.8" y1="1386.84" x2="183.8" y2="1386.84" stroke="#000" stroke-width="2.2"/>
<line x1="178.8" y1="1374.31" x2="183.8" y2="1374.31" stroke="#000" stroke-width="2.2"/>
<line x1="178.8" y1="1361.78" x2="183.8" y2="1361.78" stroke="#000" stroke-width="2.2"/>
<line x1="174.3" y1="1349.25" x2="183.8" y2="1349.25" stroke="#000" stroke-width="2.5"/>
<text x="167.3" y="1358.45" font-family="'Liberation Sans', Arial, sans-serif" font-size="32" text-anchor="end">2.5</text>
<line x1="178.8" y1="1336.72" x2="183.8" y2="1336.72" stroke="#000" stroke-width="2.2"/>
<line x1="178.8" y1="1324.19" x2="183.8" y2="1324.19" stroke="#000" stroke-width="2.2"/>
<line x1="178.8" y1="1311.6599999999999" x2="183.8" y2="1311.6599999999999" stroke="#000" stroke-width="2.2"/>
<line x1="178.8" y1="1299.1299999999999" x2="183.8" y2="1299.1299999999999" stroke="#000" stroke-width="2.2"/>
<line x1="174.3" y1="1286.6" x2="183.8" y2="1286.6" stroke="#000" stroke-width="2.5"/>
<text x="167.3" y="1295.8" font-family="'Liberation Sans', Arial, sans-serif" font-size="32" text-anchor="end">3.0</text>
<line x1="178.8" y1="1274.07" x2="183.8" y2="1274.07" stroke="#000" stroke-width="2.2"/>
<line x1="178.8" y1="1261.54" x2="183.8" y2="1261.54" stroke="#000" stroke-width="2.2"/>
<line x1="178.8" y1="1249.01" x2="183.8" y2="1249.01" stroke="#000" stroke-width="2.2"/>
<line x1="178.8" y1="1236.48" x2="183.8" y2="1236.48" stroke="#000" stroke-width="2.2"/>
<line x1="174.3" y1="1223.95" x2="183.8" y2="1223.95" stroke="#000" stroke-width="2.5"/>
<text x="167.3" y="1233.15" font-family="'Liberation Sans', Arial, sans-serif" font-size="32" text-anchor="end">3.5</text>
<line x1="178.8" y1="1211.42" x2="183.8" y2="1211.42" stroke="#000" stroke-width="2.2"/>
<text x="286.9" y="1699" font-family="'Liberation Sans', Arial, sans-serif" font-size="32" text-anchor="middle">0</text>
<text x="494" y="1699" font-family="'Liberation Sans', Arial, sans-serif" font-size="32" text-anchor="middle">24</text>
<text x="700.5" y="1699" font-family="'Liberation Sans', Arial, sans-serif" font-size="32" text-anchor="middle">48</text>
<text x="500" y="1726.5" font-family="'Liberation Sans', Arial, sans-serif" font-size="33.5" text-anchor="middle">Time (h)</text>
<text x="0" y="0" font-family="'Liberation Sans', Arial, sans-serif" font-size="35.0" text-anchor="middle" transform="translate(108.1,1433.8) rotate(-90)">Metabolic Viability (Fold change)</text>
<rect x="188.4" y="1218" width="301.6" height="199" fill="#fff" stroke="#000" stroke-width="2.2"/>
<rect x="210.10" y="1235.80" width="60.00" height="29.00" fill="#c0c0c0" stroke="#000" stroke-width="2.4"/>
<text x="287.6" y="1259.5" font-family="'Liberation Sans', Arial, sans-serif" font-size="31" text-anchor="start">Control</text>
<rect x="210.10" y="1280.90" width="60.00" height="27.10" fill="#414141" stroke="#000" stroke-width="2.4"/>
<text x="287.6" y="1305.4" font-family="'Liberation Sans', Arial, sans-serif" font-size="31" text-anchor="start">Bapta</text>
<rect x="210.10" y="1324.10" width="60.00" height="29.00" fill="#ffffff" stroke="#000" stroke-width="2.4"/>
<text x="287.6" y="1350.2" font-family="'Liberation Sans', Arial, sans-serif" font-size="31" text-anchor="start">Radiation</text>
<rect x="210.10" y="1369.60" width="60.00" height="26.70" fill="#808080" stroke="#000" stroke-width="2.4"/>
<text x="287.6" y="1394" font-family="'Liberation Sans', Arial, sans-serif" font-size="31" text-anchor="start">BAPTA+Rad.</text>
<line x1="494.7" y1="1449.5" x2="530" y2="1449.5" stroke="#000" stroke-width="3.8"/>
<line x1="511.4" y1="1449.5" x2="511.4" y2="1424.8" stroke="#000" stroke-width="3.8"/>
<line x1="509.5" y1="1426.7" x2="558.9" y2="1426.7" stroke="#000" stroke-width="3.8"/>
<line x1="557" y1="1424.8" x2="557" y2="1485" stroke="#000" stroke-width="3.8"/>
<line x1="544.3" y1="1485" x2="575.7" y2="1485" stroke="#000" stroke-width="3.8"/>
<line x1="691" y1="1303.2" x2="739.2" y2="1303.2" stroke="#000" stroke-width="3.8"/>
<line x1="714" y1="1303.2" x2="714" y2="1261.8" stroke="#000" stroke-width="3.8"/>
<line x1="712.1" y1="1263.7" x2="781.6" y2="1263.7" stroke="#000" stroke-width="3.8"/>
<line x1="779.7" y1="1261.8" x2="779.7" y2="1367.5" stroke="#000" stroke-width="3.8"/>
<line x1="758" y1="1367.5" x2="800" y2="1367.5" stroke="#000" stroke-width="3.8"/>
<text x="548.4" y="1431.88" font-family="'Liberation Sans', Arial, sans-serif" font-size="44" text-anchor="middle">*</text>
<text x="752" y="1267.38" font-family="'Liberation Sans', Arial, sans-serif" font-size="44" text-anchor="middle">*</text>
<text x="0" y="0" transform="translate(1.30,1268.20) scale(1.07,1.0)" font-family="Carlito, 'Liberation Sans', Arial, sans-serif" font-size="51.5" font-weight="bold" text-anchor="start" textLength="59.35" lengthAdjust="spacingAndGlyphs">(C)</text>
<text x="508.9" y="1252.9" font-family="Carlito, 'Liberation Sans', Arial, sans-serif" font-size="46.5" font-weight="bold" text-anchor="start" textLength="40.40" lengthAdjust="spacingAndGlyphs">(i)</text>
<line x1="989.2" y1="1513.5" x2="989.2" y2="1510" stroke="#000" stroke-width="2.2"/>
<line x1="980.7" y1="1510" x2="997.7" y2="1510" stroke="#000" stroke-width="2.2"/>
<rect x="970.50" y="1514.60" width="37.40" height="145.50" fill="#c0c0c0" stroke="#000" stroke-width="2.2"/>
<line x1="1030.5" y1="1507.5" x2="1030.5" y2="1505.5" stroke="#000" stroke-width="2.2"/>
<line x1="1022.0" y1="1505.5" x2="1039.0" y2="1505.5" stroke="#000" stroke-width="2.2"/>
<rect x="1009.60" y="1508.60" width="41.80" height="151.50" fill="#414141" stroke="#000" stroke-width="2.2"/>
<line x1="1072.0" y1="1513.5" x2="1072.0" y2="1510" stroke="#000" stroke-width="2.2"/>
<line x1="1063.5" y1="1510" x2="1080.5" y2="1510" stroke="#000" stroke-width="2.2"/>
<rect x="1053.10" y="1514.60" width="37.80" height="145.50" fill="#ffffff" stroke="#000" stroke-width="2.2"/>
<line x1="1112.25" y1="1507.5" x2="1112.25" y2="1505.5" stroke="#000" stroke-width="2.2"/>
<line x1="1103.75" y1="1505.5" x2="1120.75" y2="1505.5" stroke="#000" stroke-width="2.2"/>
<rect x="1092.60" y="1508.60" width="39.30" height="151.50" fill="#808080" stroke="#000" stroke-width="2.2"/>
<line x1="1197.2" y1="1513.5" x2="1197.2" y2="1495" stroke="#000" stroke-width="2.2"/>
<line x1="1188.7" y1="1495" x2="1205.7" y2="1495" stroke="#000" stroke-width="2.2"/>
<rect x="1178.50" y="1514.60" width="37.40" height="145.50" fill="#c0c0c0" stroke="#000" stroke-width="2.2"/>
<line x1="1238.35" y1="1524.5" x2="1238.35" y2="1515.5" stroke="#000" stroke-width="2.2"/>
<line x1="1229.85" y1="1515.5" x2="1246.85" y2="1515.5" stroke="#000" stroke-width="2.2"/>
<rect x="1217.60" y="1525.60" width="41.50" height="134.50" fill="#414141" stroke="#000" stroke-width="2.2"/>
<line x1="1279.75" y1="1451" x2="1279.75" y2="1449" stroke="#000" stroke-width="2.2"/>
<line x1="1271.25" y1="1449" x2="1288.25" y2="1449" stroke="#000" stroke-width="2.2"/>
<rect x="1261.10" y="1452.10" width="37.30" height="208.00" fill="#ffffff" stroke="#000" stroke-width="2.2"/>
<line x1="1319.7" y1="1485.5" x2="1319.7" y2="1479.5" stroke="#000" stroke-width="2.2"/>
<line x1="1311.2" y1="1479.5" x2="1328.2" y2="1479.5" stroke="#000" stroke-width="2.2"/>
<rect x="1300.10" y="1486.60" width="39.20" height="173.50" fill="#808080" stroke="#000" stroke-width="2.2"/>
<line x1="1404.05" y1="1513.5" x2="1404.05" y2="1505" stroke="#000" stroke-width="2.2"/>
<line x1="1395.55" y1="1505" x2="1412.55" y2="1505" stroke="#000" stroke-width="2.2"/>
<rect x="1385.70" y="1514.60" width="36.70" height="145.50" fill="#c0c0c0" stroke="#000" stroke-width="2.2"/>
<line x1="1445.0" y1="1545.5" x2="1445.0" y2="1540" stroke="#000" stroke-width="2.2"/>
<line x1="1436.5" y1="1540" x2="1453.5" y2="1540" stroke="#000" stroke-width="2.2"/>
<rect x="1424.10" y="1546.60" width="41.80" height="113.50" fill="#414141" stroke="#000" stroke-width="2.2"/>
<line x1="1486.5" y1="1470" x2="1486.5" y2="1466.5" stroke="#000" stroke-width="2.2"/>
<line x1="1478.0" y1="1466.5" x2="1495.0" y2="1466.5" stroke="#000" stroke-width="2.2"/>
<rect x="1467.60" y="1471.10" width="37.80" height="189.00" fill="#ffffff" stroke="#000" stroke-width="2.2"/>
<line x1="1528.25" y1="1617" x2="1528.25" y2="1613" stroke="#000" stroke-width="2.2"/>
<line x1="1519.75" y1="1613" x2="1536.75" y2="1613" stroke="#000" stroke-width="2.2"/>
<rect x="1510.10" y="1618.10" width="36.30" height="42.00" fill="#808080" stroke="#000" stroke-width="2.2"/>
<rect x="948.5" y="1215.7" width="622.5" height="444.29999999999995" fill="none" stroke="#000" stroke-width="2.5"/>
<line x1="939.5" y1="1660.0" x2="948.5" y2="1660.0" stroke="#000" stroke-width="2.5"/>
<text x="932.5" y="1669.2" font-family="'Liberation Sans', Arial, sans-serif" font-size="32" text-anchor="end">0.0</text>
<line x1="943.5" y1="1645.19" x2="948.5" y2="1645.19" stroke="#000" stroke-width="2.2"/>
<line x1="943.5" y1="1630.38" x2="948.5" y2="1630.38" stroke="#000" stroke-width="2.2"/>
<line x1="943.5" y1="1615.57" x2="948.5" y2="1615.57" stroke="#000" stroke-width="2.2"/>
<line x1="943.5" y1="1600.76" x2="948.5" y2="1600.76" stroke="#000" stroke-width="2.2"/>
<line x1="939.5" y1="1585.95" x2="948.5" y2="1585.95" stroke="#000" stroke-width="2.5"/>
<text x="932.5" y="1595.15" font-family="'Liberation Sans', Arial, sans-serif" font-size="32" text-anchor="end">0.5</text>
<line x1="943.5" y1="1571.1399999999999" x2="948.5" y2="1571.1399999999999" stroke="#000" stroke-width="2.2"/>
<line x1="943.5" y1="1556.33" x2="948.5" y2="1556.33" stroke="#000" stroke-width="2.2"/>
<line x1="943.5" y1="1541.52" x2="948.5" y2="1541.52" stroke="#000" stroke-width="2.2"/>
<line x1="943.5" y1="1526.71" x2="948.5" y2="1526.71" stroke="#000" stroke-width="2.2"/>
<line x1="939.5" y1="1511.9" x2="948.5" y2="1511.9" stroke="#000" stroke-width="2.5"/>
<text x="932.5" y="1521.1000000000001" font-family="'Liberation Sans', Arial, sans-serif" font-size="32" text-anchor="end">1.0</text>
<line x1="943.5" y1="1497.09" x2="948.5" y2="1497.09" stroke="#000" stroke-width="2.2"/>
<line x1="943.5" y1="1482.28" x2="948.5" y2="1482.28" stroke="#000" stroke-width="2.2"/>
<line x1="943.5" y1="1467.47" x2="948.5" y2="1467.47" stroke="#000" stroke-width="2.2"/>
<line x1="943.5" y1="1452.66" x2="948.5" y2="1452.66" stroke="#000" stroke-width="2.2"/>
<line x1="939.5" y1="1437.85" x2="948.5" y2="1437.85" stroke="#000" stroke-width="2.5"/>
<text x="932.5" y="1447.05" font-family="'Liberation Sans', Arial, sans-serif" font-size="32" text-anchor="end">1.5</text>
<line x1="943.5" y1="1423.04" x2="948.5" y2="1423.04" stroke="#000" stroke-width="2.2"/>
<line x1="943.5" y1="1408.23" x2="948.5" y2="1408.23" stroke="#000" stroke-width="2.2"/>
<line x1="943.5" y1="1393.42" x2="948.5" y2="1393.42" stroke="#000" stroke-width="2.2"/>
<line x1="943.5" y1="1378.6100000000001" x2="948.5" y2="1378.6100000000001" stroke="#000" stroke-width="2.2"/>
<line x1="939.5" y1="1363.8" x2="948.5" y2="1363.8" stroke="#000" stroke-width="2.5"/>
<text x="932.5" y="1373.0" font-family="'Liberation Sans', Arial, sans-serif" font-size="32" text-anchor="end">2.0</text>
<line x1="943.5" y1="1348.99" x2="948.5" y2="1348.99" stroke="#000" stroke-width="2.2"/>
<line x1="943.5" y1="1334.18" x2="948.5" y2="1334.18" stroke="#000" stroke-width="2.2"/>
<line x1="943.5" y1="1319.37" x2="948.5" y2="1319.37" stroke="#000" stroke-width="2.2"/>
<line x1="943.5" y1="1304.56" x2="948.5" y2="1304.56" stroke="#000" stroke-width="2.2"/>
<line x1="939.5" y1="1289.75" x2="948.5" y2="1289.75" stroke="#000" stroke-width="2.5"/>
<text x="932.5" y="1298.95" font-family="'Liberation Sans', Arial, sans-serif" font-size="32" text-anchor="end">2.5</text>
<line x1="943.5" y1="1274.94" x2="948.5" y2="1274.94" stroke="#000" stroke-width="2.2"/>
<line x1="943.5" y1="1260.13" x2="948.5" y2="1260.13" stroke="#000" stroke-width="2.2"/>
<line x1="943.5" y1="1245.32" x2="948.5" y2="1245.32" stroke="#000" stroke-width="2.2"/>
<line x1="943.5" y1="1230.51" x2="948.5" y2="1230.51" stroke="#000" stroke-width="2.2"/>
<line x1="939.5" y1="1215.7" x2="948.5" y2="1215.7" stroke="#000" stroke-width="2.5"/>
<text x="932.5" y="1224.9" font-family="'Liberation Sans', Arial, sans-serif" font-size="32" text-anchor="end">3.0</text>
<text x="1051" y="1696.5" font-family="'Liberation Sans', Arial, sans-serif" font-size="32" text-anchor="middle">0</text>
<text x="1258.5" y="1696.5" font-family="'Liberation Sans', Arial, sans-serif" font-size="32" text-anchor="middle">24</text>
<text x="1466" y="1696.5" font-family="'Liberation Sans', Arial, sans-serif" font-size="32" text-anchor="middle">48</text>
<text x="1264.4" y="1727.5" font-family="'Liberation Sans', Arial, sans-serif" font-size="33.5" text-anchor="middle">Time (h)</text>
<text x="0" y="0" font-family="'Liberation Sans', Arial, sans-serif" font-size="34.73" text-anchor="middle" transform="translate(876.9,1433.85) rotate(-90)">Metabolic Viability (Fold change)</text>
<rect x="957.5" y="1220" width="302.5" height="196.5" fill="#fff" stroke="#000" stroke-width="2.2"/>
<rect x="979.50" y="1240.10" width="57.40" height="26.50" fill="#c0c0c0" stroke="#000" stroke-width="2.4"/>
<text x="0" y="0" transform="translate(1056.50,1263.50) scale(1.0,1.05)" font-family="'Liberation Sans', Arial, sans-serif" font-size="30.7" text-anchor="start">Control</text>
<rect x="979.50" y="1283.60" width="57.40" height="26.30" fill="#414141" stroke="#000" stroke-width="2.4"/>
<text x="0" y="0" transform="translate(1056.50,1306.70) scale(1.0,1.05)" font-family="'Liberation Sans', Arial, sans-serif" font-size="30.7" text-anchor="start">Bapta</text>
<rect x="979.50" y="1326.50" width="57.40" height="28.50" fill="#ffffff" stroke="#000" stroke-width="2.4"/>
<text x="0" y="0" transform="translate(1056.50,1350.40) scale(1.0,1.05)" font-family="'Liberation Sans', Arial, sans-serif" font-size="30.7" text-anchor="start">Radiation</text>
<rect x="979.50" y="1370.20" width="57.40" height="28.10" fill="#808080" stroke="#000" stroke-width="2.4"/>
<text x="0" y="0" transform="translate(1056.50,1395.40) scale(1.0,1.05)" font-family="'Liberation Sans', Arial, sans-serif" font-size="30.7" text-anchor="start">BAPTA+Rad.</text>
<line x1="1263" y1="1419" x2="1299" y2="1419" stroke="#000" stroke-width="3.8"/>
<line x1="1279" y1="1419" x2="1279" y2="1394.1" stroke="#000" stroke-width="3.8"/>
<line x1="1277.1" y1="1396" x2="1327.9" y2="1396" stroke="#000" stroke-width="3.8"/>
<line x1="1326" y1="1394.1" x2="1326" y2="1454" stroke="#000" stroke-width="3.8"/>
<line x1="1311" y1="1454" x2="1342" y2="1454" stroke="#000" stroke-width="3.8"/>
<line x1="1471" y1="1454" x2="1506.5" y2="1454" stroke="#000" stroke-width="3.8"/>
<line x1="1487.5" y1="1454" x2="1487.5" y2="1428.1" stroke="#000" stroke-width="3.8"/>
<line x1="1485.6" y1="1430" x2="1535.4" y2="1430" stroke="#000" stroke-width="3.8"/>
<line x1="1533.5" y1="1428.1" x2="1533.5" y2="1486" stroke="#000" stroke-width="3.8"/>
<line x1="1517.5" y1="1486" x2="1550" y2="1486" stroke="#000" stroke-width="3.8"/>
<text x="1310" y="1401.38" font-family="'Liberation Sans', Arial, sans-serif" font-size="44" text-anchor="middle">*</text>
<text x="1520" y="1433.88" font-family="'Liberation Sans', Arial, sans-serif" font-size="44" text-anchor="middle">*</text>
<text x="1261.4" y="1256.9" font-family="Carlito, 'Liberation Sans', Arial, sans-serif" font-size="46.5" font-weight="bold" text-anchor="start" textLength="51.82" lengthAdjust="spacingAndGlyphs">(ii)</text>
<line x1="224.85" y1="2107.3" x2="224.85" y2="2100.8" stroke="#000" stroke-width="2.2"/>
<line x1="216.35" y1="2100.8" x2="233.35" y2="2100.8" stroke="#000" stroke-width="2.2"/>
<rect x="205.80" y="2108.40" width="38.10" height="111.40" fill="#c0c0c0" stroke="#000" stroke-width="2.2"/>
<line x1="266.5" y1="2107.3" x2="266.5" y2="2098.7" stroke="#000" stroke-width="2.2"/>
<line x1="258.0" y1="2098.7" x2="275.0" y2="2098.7" stroke="#000" stroke-width="2.2"/>
<rect x="245.60" y="2108.40" width="41.80" height="111.40" fill="#414141" stroke="#000" stroke-width="2.2"/>
<line x1="308.0" y1="2095.7" x2="308.0" y2="2090.1" stroke="#000" stroke-width="2.2"/>
<line x1="299.5" y1="2090.1" x2="316.5" y2="2090.1" stroke="#000" stroke-width="2.2"/>
<rect x="289.10" y="2096.80" width="37.80" height="123.00" fill="#ffffff" stroke="#000" stroke-width="2.2"/>
<line x1="347.9" y1="2107.3" x2="347.9" y2="2098.7" stroke="#000" stroke-width="2.2"/>
<line x1="339.4" y1="2098.7" x2="356.4" y2="2098.7" stroke="#000" stroke-width="2.2"/>
<rect x="328.60" y="2108.40" width="38.60" height="111.40" fill="#808080" stroke="#000" stroke-width="2.2"/>
<line x1="429.85" y1="2107.3" x2="429.85" y2="2103.3" stroke="#000" stroke-width="2.2"/>
<line x1="421.35" y1="2103.3" x2="438.35" y2="2103.3" stroke="#000" stroke-width="2.2"/>
<rect x="410.80" y="2108.40" width="38.10" height="111.40" fill="#c0c0c0" stroke="#000" stroke-width="2.2"/>
<line x1="471.4" y1="2094.2" x2="471.4" y2="2085.6" stroke="#000" stroke-width="2.2"/>
<line x1="462.9" y1="2085.6" x2="479.9" y2="2085.6" stroke="#000" stroke-width="2.2"/>
<rect x="450.60" y="2095.30" width="41.60" height="124.50" fill="#414141" stroke="#000" stroke-width="2.2"/>
<line x1="513.45" y1="2024.8" x2="513.45" y2="2017.2" stroke="#000" stroke-width="2.2"/>
<line x1="504.95000000000005" y1="2017.2" x2="521.95" y2="2017.2" stroke="#000" stroke-width="2.2"/>
<rect x="495.00" y="2025.90" width="36.90" height="193.90" fill="#ffffff" stroke="#000" stroke-width="2.2"/>
<line x1="553.6" y1="2081" x2="553.6" y2="2077.5" stroke="#000" stroke-width="2.2"/>
<line x1="545.1" y1="2077.5" x2="562.1" y2="2077.5" stroke="#000" stroke-width="2.2"/>
<rect x="534.60" y="2082.10" width="38.00" height="137.70" fill="#808080" stroke="#000" stroke-width="2.2"/>
<line x1="636.5" y1="2107.3" x2="636.5" y2="2100.8" stroke="#000" stroke-width="2.2"/>
<line x1="628.0" y1="2100.8" x2="645.0" y2="2100.8" stroke="#000" stroke-width="2.2"/>
<rect x="618.60" y="2108.40" width="35.80" height="111.40" fill="#c0c0c0" stroke="#000" stroke-width="2.2"/>
<line x1="677.25" y1="2124.1" x2="677.25" y2="2100.8" stroke="#000" stroke-width="2.2"/>
<line x1="668.75" y1="2100.8" x2="685.75" y2="2100.8" stroke="#000" stroke-width="2.2"/>
<rect x="657.60" y="2125.20" width="39.30" height="94.60" fill="#414141" stroke="#000" stroke-width="2.2"/>
<line x1="719.0" y1="1917" x2="719.0" y2="1911.4" stroke="#000" stroke-width="2.2"/>
<line x1="710.5" y1="1911.4" x2="727.5" y2="1911.4" stroke="#000" stroke-width="2.2"/>
<rect x="700.60" y="1918.10" width="36.80" height="301.70" fill="#ffffff" stroke="#000" stroke-width="2.2"/>
<line x1="760.5" y1="2087.6" x2="760.5" y2="2062.8" stroke="#000" stroke-width="2.2"/>
<line x1="752.0" y1="2062.8" x2="769.0" y2="2062.8" stroke="#000" stroke-width="2.2"/>
<rect x="741.10" y="2088.70" width="38.80" height="131.10" fill="#808080" stroke="#000" stroke-width="2.2"/>
<rect x="184" y="1768.5" width="618" height="451.1999999999998" fill="none" stroke="#000" stroke-width="2.5"/>
<line x1="174.5" y1="2219.7" x2="184" y2="2219.7" stroke="#000" stroke-width="2.5"/>
<text x="168.2" y="2228.8999999999996" font-family="'Liberation Sans', Arial, sans-serif" font-size="32" text-anchor="end">0.0</text>
<line x1="178.7" y1="2208.4199999999996" x2="184" y2="2208.4199999999996" stroke="#000" stroke-width="2.2"/>
<line x1="178.7" y1="2197.14" x2="184" y2="2197.14" stroke="#000" stroke-width="2.2"/>
<line x1="178.7" y1="2185.8599999999997" x2="184" y2="2185.8599999999997" stroke="#000" stroke-width="2.2"/>
<line x1="178.7" y1="2174.58" x2="184" y2="2174.58" stroke="#000" stroke-width="2.2"/>
<line x1="174.5" y1="2163.2999999999997" x2="184" y2="2163.2999999999997" stroke="#000" stroke-width="2.5"/>
<text x="168.2" y="2172.4999999999995" font-family="'Liberation Sans', Arial, sans-serif" font-size="32" text-anchor="end">0.5</text>
<line x1="178.7" y1="2152.02" x2="184" y2="2152.02" stroke="#000" stroke-width="2.2"/>
<line x1="178.7" y1="2140.74" x2="184" y2="2140.74" stroke="#000" stroke-width="2.2"/>
<line x1="178.7" y1="2129.46" x2="184" y2="2129.46" stroke="#000" stroke-width="2.2"/>
<line x1="178.7" y1="2118.18" x2="184" y2="2118.18" stroke="#000" stroke-width="2.2"/>
<line x1="174.5" y1="2106.8999999999996" x2="184" y2="2106.8999999999996" stroke="#000" stroke-width="2.5"/>
<text x="168.2" y="2116.0999999999995" font-family="'Liberation Sans', Arial, sans-serif" font-size="32" text-anchor="end">1.0</text>
<line x1="178.7" y1="2095.62" x2="184" y2="2095.62" stroke="#000" stroke-width="2.2"/>
<line x1="178.7" y1="2084.3399999999997" x2="184" y2="2084.3399999999997" stroke="#000" stroke-width="2.2"/>
<line x1="178.7" y1="2073.06" x2="184" y2="2073.06" stroke="#000" stroke-width="2.2"/>
<line x1="178.7" y1="2061.7799999999997" x2="184" y2="2061.7799999999997" stroke="#000" stroke-width="2.2"/>
<line x1="174.5" y1="2050.5" x2="184" y2="2050.5" stroke="#000" stroke-width="2.5"/>
<text x="168.2" y="2059.7" font-family="'Liberation Sans', Arial, sans-serif" font-size="32" text-anchor="end">1.5</text>
<line x1="178.7" y1="2039.2199999999998" x2="184" y2="2039.2199999999998" stroke="#000" stroke-width="2.2"/>
<line x1="178.7" y1="2027.9399999999998" x2="184" y2="2027.9399999999998" stroke="#000" stroke-width="2.2"/>
<line x1="178.7" y1="2016.6599999999999" x2="184" y2="2016.6599999999999" stroke="#000" stroke-width="2.2"/>
<line x1="178.7" y1="2005.3799999999999" x2="184" y2="2005.3799999999999" stroke="#000" stroke-width="2.2"/>
<line x1="174.5" y1="1994.1" x2="184" y2="1994.1" stroke="#000" stroke-width="2.5"/>
<text x="168.2" y="2003.3" font-family="'Liberation Sans', Arial, sans-serif" font-size="32" text-anchor="end">2.0</text>
<line x1="178.7" y1="1982.82" x2="184" y2="1982.82" stroke="#000" stroke-width="2.2"/>
<line x1="178.7" y1="1971.54" x2="184" y2="1971.54" stroke="#000" stroke-width="2.2"/>
<line x1="178.7" y1="1960.2599999999998" x2="184" y2="1960.2599999999998" stroke="#000" stroke-width="2.2"/>
<line x1="178.7" y1="1948.98" x2="184" y2="1948.98" stroke="#000" stroke-width="2.2"/>
<line x1="174.5" y1="1937.6999999999998" x2="184" y2="1937.6999999999998" stroke="#000" stroke-width="2.5"/>
<text x="168.2" y="1946.8999999999999" font-family="'Liberation Sans', Arial, sans-serif" font-size="32" text-anchor="end">2.5</text>
<line x1="178.7" y1="1926.4199999999998" x2="184" y2="1926.4199999999998" stroke="#000" stroke-width="2.2"/>
<line x1="178.7" y1="1915.1399999999999" x2="184" y2="1915.1399999999999" stroke="#000" stroke-width="2.2"/>
<line x1="178.7" y1="1903.86" x2="184" y2="1903.86" stroke="#000" stroke-width="2.2"/>
<line x1="178.7" y1="1892.58" x2="184" y2="1892.58" stroke="#000" stroke-width="2.2"/>
<line x1="174.5" y1="1881.3" x2="184" y2="1881.3" stroke="#000" stroke-width="2.5"/>
<text x="168.2" y="1890.5" font-family="'Liberation Sans', Arial, sans-serif" font-size="32" text-anchor="end">3.0</text>
<line x1="178.7" y1="1870.02" x2="184" y2="1870.02" stroke="#000" stroke-width="2.2"/>
<line x1="178.7" y1="1858.74" x2="184" y2="1858.74" stroke="#000" stroke-width="2.2"/>
<line x1="178.7" y1="1847.46" x2="184" y2="1847.46" stroke="#000" stroke-width="2.2"/>
<line x1="178.7" y1="1836.1799999999998" x2="184" y2="1836.1799999999998" stroke="#000" stroke-width="2.2"/>
<line x1="174.5" y1="1824.9" x2="184" y2="1824.9" stroke="#000" stroke-width="2.5"/>
<text x="168.2" y="1834.1000000000001" font-family="'Liberation Sans', Arial, sans-serif" font-size="32" text-anchor="end">3.5</text>
<line x1="178.7" y1="1813.62" x2="184" y2="1813.62" stroke="#000" stroke-width="2.2"/>
<line x1="178.7" y1="1802.34" x2="184" y2="1802.34" stroke="#000" stroke-width="2.2"/>
<line x1="178.7" y1="1791.06" x2="184" y2="1791.06" stroke="#000" stroke-width="2.2"/>
<line x1="178.7" y1="1779.78" x2="184" y2="1779.78" stroke="#000" stroke-width="2.2"/>
<line x1="174.5" y1="1768.5" x2="184" y2="1768.5" stroke="#000" stroke-width="2.5"/>
<text x="168.2" y="1777.7" font-family="'Liberation Sans', Arial, sans-serif" font-size="32" text-anchor="end">4.0</text>
<text x="286.9" y="2255.2" font-family="'Liberation Sans', Arial, sans-serif" font-size="32" text-anchor="middle">0</text>
<text x="491.6" y="2255.2" font-family="'Liberation Sans', Arial, sans-serif" font-size="32" text-anchor="middle">24</text>
<text x="698.7" y="2255.2" font-family="'Liberation Sans', Arial, sans-serif" font-size="32" text-anchor="middle">48</text>
<text x="499" y="2287" font-family="'Liberation Sans', Arial, sans-serif" font-size="33.5" text-anchor="middle">Time (h)</text>
<text x="0" y="0" font-family="'Liberation Sans', Arial, sans-serif" font-size="35.1" text-anchor="middle" transform="translate(112.2,1989.8) rotate(-90)">Metabolic Viability (Fold change)</text>
<rect x="197" y="1774.3" width="296.7" height="201.5" fill="#fff" stroke="#000" stroke-width="2.2"/>
<rect x="219.30" y="1794.70" width="57.20" height="27.10" fill="#c0c0c0" stroke="#000" stroke-width="2.4"/>
<text x="0" y="0" transform="translate(296.20,1818.70) scale(1.0,1.06)" font-family="'Liberation Sans', Arial, sans-serif" font-size="30" text-anchor="start">Control</text>
<rect x="219.30" y="1838.30" width="57.20" height="28.60" fill="#414141" stroke="#000" stroke-width="2.4"/>
<text x="0" y="0" transform="translate(296.20,1864.00) scale(1.0,1.06)" font-family="'Liberation Sans', Arial, sans-serif" font-size="30" text-anchor="start">Ru.Red</text>
<rect x="219.30" y="1883.00" width="57.20" height="29.40" fill="#ffffff" stroke="#000" stroke-width="2.4"/>
<text x="0" y="0" transform="translate(296.20,1907.00) scale(1.0,1.06)" font-family="'Liberation Sans', Arial, sans-serif" font-size="30" text-anchor="start">Radiation</text>
<rect x="219.30" y="1927.20" width="57.20" height="28.40" fill="#808080" stroke="#000" stroke-width="2.4"/>
<text x="0" y="0" transform="translate(296.20,1952.50) scale(1.0,1.06)" font-family="'Liberation Sans', Arial, sans-serif" font-size="30" text-anchor="start">RuRed+Rad.</text>
<line x1="492" y1="1996.5" x2="528" y2="1996.5" stroke="#000" stroke-width="3.8"/>
<line x1="507.3" y1="1996.5" x2="507.3" y2="1974.8" stroke="#000" stroke-width="3.8"/>
<line x1="505.40000000000003" y1="1976.7" x2="557.3" y2="1976.7" stroke="#000" stroke-width="3.8"/>
<line x1="555.4" y1="1974.8" x2="555.4" y2="2033" stroke="#000" stroke-width="3.8"/>
<line x1="536.7" y1="2033" x2="568.6" y2="2033" stroke="#000" stroke-width="3.8"/>
<line x1="688.6" y1="1888" x2="736.7" y2="1888" stroke="#000" stroke-width="3.8"/>
<line x1="709.9" y1="1888" x2="709.9" y2="1844.6999999999998" stroke="#000" stroke-width="3.8"/>
<line x1="708.0" y1="1846.6" x2="777.6" y2="1846.6" stroke="#000" stroke-width="3.8"/>
<line x1="775.7" y1="1844.6999999999998" x2="775.7" y2="1953.9" stroke="#000" stroke-width="3.8"/>
<line x1="754.4" y1="1953.9" x2="795" y2="1953.9" stroke="#000" stroke-width="3.8"/>
<text x="541.8" y="1981.88" font-family="'Liberation Sans', Arial, sans-serif" font-size="44" text-anchor="middle">*</text>
<text x="749.4" y="1853.7800000000002" font-family="'Liberation Sans', Arial, sans-serif" font-size="44" text-anchor="middle">*</text>
<text x="0" y="0" transform="translate(1.30,1805.90) scale(1.07,1.0)" font-family="Carlito, 'Liberation Sans', Arial, sans-serif" font-size="51.5" font-weight="bold" text-anchor="start" textLength="64.55" lengthAdjust="spacingAndGlyphs">(D)</text>
<text x="504.7" y="1809.4" font-family="Carlito, 'Liberation Sans', Arial, sans-serif" font-size="46.5" font-weight="bold" text-anchor="start" textLength="40.40" lengthAdjust="spacingAndGlyphs">(i)</text>
<line x1="1000.15" y1="2064" x2="1000.15" y2="2062" stroke="#000" stroke-width="2.2"/>
<line x1="991.65" y1="2062" x2="1008.65" y2="2062" stroke="#000" stroke-width="2.2"/>
<rect x="981.40" y="2065.10" width="37.50" height="148.20" fill="#c0c0c0" stroke="#000" stroke-width="2.2"/>
<line x1="1041.5" y1="2083.5" x2="1041.5" y2="2079" stroke="#000" stroke-width="2.2"/>
<line x1="1033.0" y1="2079" x2="1050.0" y2="2079" stroke="#000" stroke-width="2.2"/>
<rect x="1020.60" y="2084.60" width="41.80" height="128.70" fill="#414141" stroke="#000" stroke-width="2.2"/>
<line x1="1083.0" y1="2064" x2="1083.0" y2="2062" stroke="#000" stroke-width="2.2"/>
<line x1="1074.5" y1="2062" x2="1091.5" y2="2062" stroke="#000" stroke-width="2.2"/>
<rect x="1064.10" y="2065.10" width="37.80" height="148.20" fill="#ffffff" stroke="#000" stroke-width="2.2"/>
<line x1="1123.0" y1="2083.5" x2="1123.0" y2="2079" stroke="#000" stroke-width="2.2"/>
<line x1="1114.5" y1="2079" x2="1131.5" y2="2079" stroke="#000" stroke-width="2.2"/>
<rect x="1103.60" y="2084.60" width="38.80" height="128.70" fill="#808080" stroke="#000" stroke-width="2.2"/>
<line x1="1205.6" y1="2064" x2="1205.6" y2="2060" stroke="#000" stroke-width="2.2"/>
<line x1="1197.1" y1="2060" x2="1214.1" y2="2060" stroke="#000" stroke-width="2.2"/>
<rect x="1186.80" y="2065.10" width="37.60" height="148.20" fill="#c0c0c0" stroke="#000" stroke-width="2.2"/>
<line x1="1246.5" y1="2068" x2="1246.5" y2="2064" stroke="#000" stroke-width="2.2"/>
<line x1="1238.0" y1="2064" x2="1255.0" y2="2064" stroke="#000" stroke-width="2.2"/>
<rect x="1226.10" y="2069.10" width="40.80" height="144.20" fill="#414141" stroke="#000" stroke-width="2.2"/>
<line x1="1287.5" y1="2008" x2="1287.5" y2="2003.5" stroke="#000" stroke-width="2.2"/>
<line x1="1279.0" y1="2003.5" x2="1296.0" y2="2003.5" stroke="#000" stroke-width="2.2"/>
<rect x="1268.60" y="2009.10" width="37.80" height="204.20" fill="#ffffff" stroke="#000" stroke-width="2.2"/>
<line x1="1328.0" y1="2053" x2="1328.0" y2="2051" stroke="#000" stroke-width="2.2"/>
<line x1="1319.5" y1="2051" x2="1336.5" y2="2051" stroke="#000" stroke-width="2.2"/>
<rect x="1308.10" y="2054.10" width="39.80" height="159.20" fill="#808080" stroke="#000" stroke-width="2.2"/>
<line x1="1410.9" y1="2064" x2="1410.9" y2="2053" stroke="#000" stroke-width="2.2"/>
<line x1="1402.4" y1="2053" x2="1419.4" y2="2053" stroke="#000" stroke-width="2.2"/>
<rect x="1392.60" y="2065.10" width="36.60" height="148.20" fill="#c0c0c0" stroke="#000" stroke-width="2.2"/>
<line x1="1451.65" y1="2064" x2="1451.65" y2="2060" stroke="#000" stroke-width="2.2"/>
<line x1="1443.15" y1="2060" x2="1460.15" y2="2060" stroke="#000" stroke-width="2.2"/>
<rect x="1430.90" y="2065.10" width="41.50" height="148.20" fill="#414141" stroke="#000" stroke-width="2.2"/>
<line x1="1493.25" y1="2023" x2="1493.25" y2="2016.5" stroke="#000" stroke-width="2.2"/>
<line x1="1484.75" y1="2016.5" x2="1501.75" y2="2016.5" stroke="#000" stroke-width="2.2"/>
<rect x="1474.10" y="2024.10" width="38.30" height="189.20" fill="#ffffff" stroke="#000" stroke-width="2.2"/>
<line x1="1533.5" y1="2072.5" x2="1533.5" y2="2064" stroke="#000" stroke-width="2.2"/>
<line x1="1525.0" y1="2064" x2="1542.0" y2="2064" stroke="#000" stroke-width="2.2"/>
<rect x="1514.10" y="2073.60" width="38.80" height="139.70" fill="#808080" stroke="#000" stroke-width="2.2"/>
<rect x="961.7" y="1766.5" width="612.3" height="446.6999999999998" fill="none" stroke="#000" stroke-width="2.5"/>
<line x1="949.7" y1="2213.2" x2="961.7" y2="2213.2" stroke="#000" stroke-width="2.5"/>
<text x="946" y="2222.3999999999996" font-family="'Liberation Sans', Arial, sans-serif" font-size="32" text-anchor="end">0.0</text>
<line x1="954.2" y1="2198.31" x2="961.7" y2="2198.31" stroke="#000" stroke-width="2.2"/>
<line x1="954.2" y1="2183.4199999999996" x2="961.7" y2="2183.4199999999996" stroke="#000" stroke-width="2.2"/>
<line x1="954.2" y1="2168.5299999999997" x2="961.7" y2="2168.5299999999997" stroke="#000" stroke-width="2.2"/>
<line x1="954.2" y1="2153.64" x2="961.7" y2="2153.64" stroke="#000" stroke-width="2.2"/>
<line x1="949.7" y1="2138.75" x2="961.7" y2="2138.75" stroke="#000" stroke-width="2.5"/>
<text x="946" y="2147.95" font-family="'Liberation Sans', Arial, sans-serif" font-size="32" text-anchor="end">0.5</text>
<line x1="954.2" y1="2123.8599999999997" x2="961.7" y2="2123.8599999999997" stroke="#000" stroke-width="2.2"/>
<line x1="954.2" y1="2108.97" x2="961.7" y2="2108.97" stroke="#000" stroke-width="2.2"/>
<line x1="954.2" y1="2094.08" x2="961.7" y2="2094.08" stroke="#000" stroke-width="2.2"/>
<line x1="954.2" y1="2079.19" x2="961.7" y2="2079.19" stroke="#000" stroke-width="2.2"/>
<line x1="949.7" y1="2064.2999999999997" x2="961.7" y2="2064.2999999999997" stroke="#000" stroke-width="2.5"/>
<text x="946" y="2073.4999999999995" font-family="'Liberation Sans', Arial, sans-serif" font-size="32" text-anchor="end">1.0</text>
<line x1="954.2" y1="2049.41" x2="961.7" y2="2049.41" stroke="#000" stroke-width="2.2"/>
<line x1="954.2" y1="2034.5199999999998" x2="961.7" y2="2034.5199999999998" stroke="#000" stroke-width="2.2"/>
<line x1="954.2" y1="2019.6299999999999" x2="961.7" y2="2019.6299999999999" stroke="#000" stroke-width="2.2"/>
<line x1="954.2" y1="2004.7399999999998" x2="961.7" y2="2004.7399999999998" stroke="#000" stroke-width="2.2"/>
<line x1="949.7" y1="1989.85" x2="961.7" y2="1989.85" stroke="#000" stroke-width="2.5"/>
<text x="946" y="1999.05" font-family="'Liberation Sans', Arial, sans-serif" font-size="32" text-anchor="end">1.5</text>
<line x1="954.2" y1="1974.9599999999998" x2="961.7" y2="1974.9599999999998" stroke="#000" stroke-width="2.2"/>
<line x1="954.2" y1="1960.07" x2="961.7" y2="1960.07" stroke="#000" stroke-width="2.2"/>
<line x1="954.2" y1="1945.1799999999998" x2="961.7" y2="1945.1799999999998" stroke="#000" stroke-width="2.2"/>
<line x1="954.2" y1="1930.29" x2="961.7" y2="1930.29" stroke="#000" stroke-width="2.2"/>
<line x1="949.7" y1="1915.3999999999999" x2="961.7" y2="1915.3999999999999" stroke="#000" stroke-width="2.5"/>
<text x="946" y="1924.6" font-family="'Liberation Sans', Arial, sans-serif" font-size="32" text-anchor="end">2.0</text>
<line x1="954.2" y1="1900.51" x2="961.7" y2="1900.51" stroke="#000" stroke-width="2.2"/>
<line x1="954.2" y1="1885.62" x2="961.7" y2="1885.62" stroke="#000" stroke-width="2.2"/>
<line x1="954.2" y1="1870.73" x2="961.7" y2="1870.73" stroke="#000" stroke-width="2.2"/>
<line x1="954.2" y1="1855.84" x2="961.7" y2="1855.84" stroke="#000" stroke-width="2.2"/>
<line x1="949.7" y1="1840.9499999999998" x2="961.7" y2="1840.9499999999998" stroke="#000" stroke-width="2.5"/>
<text x="946" y="1850.1499999999999" font-family="'Liberation Sans', Arial, sans-serif" font-size="32" text-anchor="end">2.5</text>
<line x1="954.2" y1="1826.06" x2="961.7" y2="1826.06" stroke="#000" stroke-width="2.2"/>
<line x1="954.2" y1="1811.1699999999998" x2="961.7" y2="1811.1699999999998" stroke="#000" stroke-width="2.2"/>
<line x1="954.2" y1="1796.28" x2="961.7" y2="1796.28" stroke="#000" stroke-width="2.2"/>
<line x1="954.2" y1="1781.3899999999999" x2="961.7" y2="1781.3899999999999" stroke="#000" stroke-width="2.2"/>
<line x1="949.7" y1="1766.5" x2="961.7" y2="1766.5" stroke="#000" stroke-width="2.5"/>
<text x="946" y="1775.7" font-family="'Liberation Sans', Arial, sans-serif" font-size="32" text-anchor="end">3.0</text>
<text x="1062" y="2246" font-family="'Liberation Sans', Arial, sans-serif" font-size="32" text-anchor="middle">0</text>
<text x="1267.3" y="2246" font-family="'Liberation Sans', Arial, sans-serif" font-size="32" text-anchor="middle">24</text>
<text x="1472.3" y="2246" font-family="'Liberation Sans', Arial, sans-serif" font-size="32" text-anchor="middle">48</text>
<text x="1274" y="2281" font-family="'Liberation Sans', Arial, sans-serif" font-size="33.5" text-anchor="middle">Time (h)</text>
<text x="0" y="0" font-family="'Liberation Sans', Arial, sans-serif" font-size="34.8" text-anchor="middle" transform="translate(879.1,1985.5) rotate(-90)">Metabolic Viability (Fold change)</text>
<rect x="968.5" y="1777.5" width="295.5" height="196.0" fill="#fff" stroke="#000" stroke-width="2.2"/>
<rect x="990.20" y="1794.70" width="57.30" height="29.40" fill="#c0c0c0" stroke="#000" stroke-width="2.4"/>
<text x="0" y="0" transform="translate(1067.50,1818.70) scale(1.0,1.09)" font-family="'Liberation Sans', Arial, sans-serif" font-size="30" text-anchor="start">Control</text>
<rect x="990.20" y="1838.30" width="57.30" height="28.60" fill="#414141" stroke="#000" stroke-width="2.4"/>
<text x="0" y="0" transform="translate(1067.50,1864.80) scale(1.0,1.09)" font-family="'Liberation Sans', Arial, sans-serif" font-size="30" text-anchor="start">Ru.Red</text>
<rect x="990.20" y="1883.40" width="57.30" height="26.70" fill="#ffffff" stroke="#000" stroke-width="2.4"/>
<text x="0" y="0" transform="translate(1067.50,1907.90) scale(1.0,1.09)" font-family="'Liberation Sans', Arial, sans-serif" font-size="30" text-anchor="start">Radiation</text>
<rect x="990.20" y="1927.20" width="57.30" height="28.40" fill="#808080" stroke="#000" stroke-width="2.4"/>
<text x="0" y="0" transform="translate(1067.50,1951.20) scale(1.0,1.09)" font-family="'Liberation Sans', Arial, sans-serif" font-size="30" text-anchor="start">RuRed+Rad.</text>
<line x1="1271" y1="1988" x2="1307.5" y2="1988" stroke="#000" stroke-width="3.8"/>
<line x1="1291.5" y1="1988" x2="1291.5" y2="1963.1" stroke="#000" stroke-width="3.8"/>
<line x1="1289.6" y1="1965" x2="1340.9" y2="1965" stroke="#000" stroke-width="3.8"/>
<line x1="1339" y1="1963.1" x2="1339" y2="2022" stroke="#000" stroke-width="3.8"/>
<line x1="1324" y1="2022" x2="1355" y2="2022" stroke="#000" stroke-width="3.8"/>
<line x1="1475" y1="2005" x2="1511.5" y2="2005" stroke="#000" stroke-width="3.8"/>
<line x1="1494" y1="2005" x2="1494" y2="1978.1" stroke="#000" stroke-width="3.8"/>
<line x1="1492.1" y1="1980" x2="1541.9" y2="1980" stroke="#000" stroke-width="3.8"/>
<line x1="1540" y1="1978.1" x2="1540" y2="2037" stroke="#000" stroke-width="3.8"/>
<line x1="1527.5" y1="2037" x2="1558.5" y2="2037" stroke="#000" stroke-width="3.8"/>
<text x="1321" y="1970.38" font-family="'Liberation Sans', Arial, sans-serif" font-size="44" text-anchor="middle">*</text>
<text x="1524" y="1983.88" font-family="'Liberation Sans', Arial, sans-serif" font-size="44" text-anchor="middle">*</text>
<text x="1264.2" y="1807.4" font-family="Carlito, 'Liberation Sans', Arial, sans-serif" font-size="46.5" font-weight="bold" text-anchor="start" textLength="51.82" lengthAdjust="spacingAndGlyphs">(ii)</text>
<text x="432.7" y="38.5" font-family="Carlito, 'Liberation Sans', Arial, sans-serif" font-size="54" font-weight="bold" text-anchor="start" textLength="113.5" lengthAdjust="spacingAndGlyphs">HeLa</text>
<rect x="280" y="46" width="428.6" height="9" fill="#000"/>
<text x="1148.5" y="39" font-family="Carlito, 'Liberation Sans', Arial, sans-serif" font-size="52" font-weight="bold" text-anchor="start" textLength="307.5" lengthAdjust="spacingAndGlyphs">MDA-MB-231</text>
<rect x="1068" y="46" width="428" height="8.5" fill="#000"/>
</svg>
</body></html>
